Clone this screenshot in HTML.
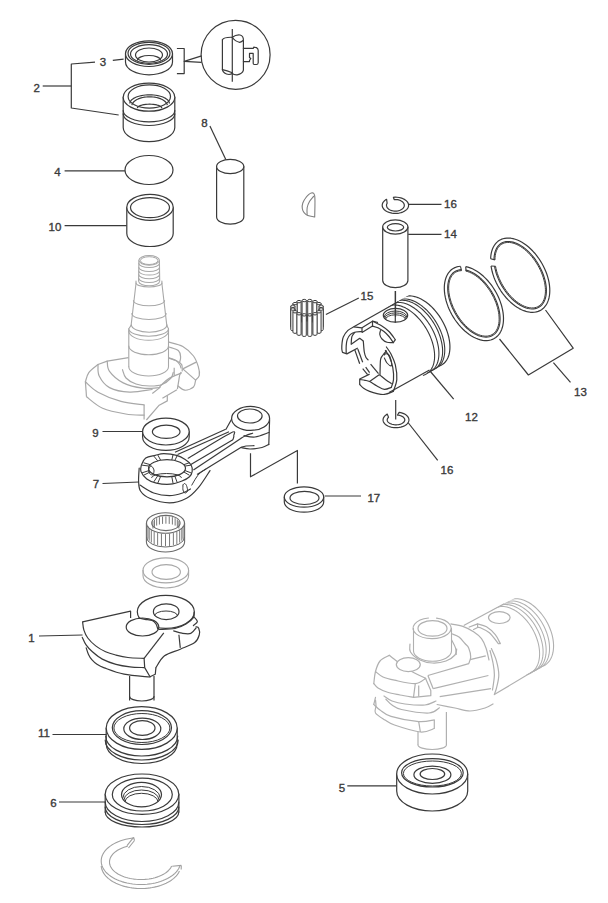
<!DOCTYPE html>
<html><head><meta charset="utf-8"><style>
html,body{margin:0;padding:0;background:#fff;}
svg{display:block;font-family:"Liberation Sans",sans-serif;}
</style></head><body>
<svg width="608" height="903" viewBox="0 0 608 903">
<text x="36.8" y="88" font-size="11.5" fill="#3a3a3a" stroke="#3a3a3a" stroke-width="0.35" text-anchor="middle" dominant-baseline="central">2</text>
<line x1="42.7" y1="86" x2="71.3" y2="86" stroke="#3a3a3a" stroke-width="1.2"/>
<path d="M95 62.1 L71.3 64 L71.3 108 L118.7 115" stroke="#3a3a3a" stroke-width="1.2" fill="none" stroke-linejoin="round"/>
<text x="103" y="62" font-size="11.5" fill="#3a3a3a" stroke="#3a3a3a" stroke-width="0.35" text-anchor="middle" dominant-baseline="central">3</text>
<line x1="112.8" y1="60.3" x2="123.6" y2="59.1" stroke="#3a3a3a" stroke-width="1.2"/>
<text x="57.5" y="171.5" font-size="11.5" fill="#3a3a3a" stroke="#3a3a3a" stroke-width="0.35" text-anchor="middle" dominant-baseline="central">4</text>
<line x1="64.6" y1="170.8" x2="125" y2="170.8" stroke="#3a3a3a" stroke-width="1.2"/>
<text x="55" y="226.5" font-size="11.5" fill="#3a3a3a" stroke="#3a3a3a" stroke-width="0.35" text-anchor="middle" dominant-baseline="central">10</text>
<line x1="64.6" y1="225.7" x2="126.8" y2="225.7" stroke="#3a3a3a" stroke-width="1.2"/>
<text x="204.5" y="122.8" font-size="11.5" fill="#3a3a3a" stroke="#3a3a3a" stroke-width="0.35" text-anchor="middle" dominant-baseline="central">8</text>
<line x1="209.9" y1="126" x2="225.9" y2="159.8" stroke="#3a3a3a" stroke-width="1.2"/>
<path d="M125.5 53.7 L125.5 62 A23.5 12.8 0 0 0 172.5 62 L172.5 53.7" stroke="#3a3a3a" stroke-width="1.2" fill="#fff" stroke-linejoin="round" stroke-linecap="round"/>
<ellipse cx="149" cy="53.7" rx="23.5" ry="12.8" stroke="#3a3a3a" stroke-width="1.2" fill="#fff"/>
<ellipse cx="149" cy="53.3" rx="21" ry="11" stroke="#3a3a3a" stroke-width="1.2" fill="none"/>
<ellipse cx="149" cy="54" rx="18.5" ry="9.3" stroke="#3a3a3a" stroke-width="1.2" fill="none"/>
<ellipse cx="149" cy="55" rx="13.5" ry="7" stroke="#3a3a3a" stroke-width="1.2" fill="none"/>
<path d="M137.5 60 A11.5 4.5 0 0 1 160.5 60" stroke="#3a3a3a" stroke-width="1.2" fill="none" stroke-linejoin="round" stroke-linecap="round"/>
<path d="M123.2 97.2 L123.2 127.6 A25.8 14 0 0 0 174.8 127.6 L174.8 97.2" stroke="#3a3a3a" stroke-width="1.2" fill="#fff" stroke-linejoin="round" stroke-linecap="round"/>
<ellipse cx="149" cy="97.2" rx="25.8" ry="14" stroke="#3a3a3a" stroke-width="1.2" fill="#fff"/>
<ellipse cx="149.3" cy="96.5" rx="21.2" ry="11.6" stroke="#3a3a3a" stroke-width="1.2" fill="none"/>
<path d="M129.8 103.5 L129.91 102.59 L130.23 101.69 L130.77 100.81 L131.51 99.96 L132.45 99.15 L133.58 98.39 L134.89 97.68 L136.35 97.03 L137.96 96.46 L139.7 95.97 L141.55 95.55 L143.48 95.23 L145.48 94.99 L147.53 94.85 L149.6 94.8 L151.67 94.85 L153.72 94.99 L155.72 95.23 L157.65 95.55 L159.5 95.97 L161.24 96.46 L162.85 97.03 L164.31 97.68 L165.62 98.39 L166.75 99.15 L167.69 99.96 L168.43 100.81 L168.97 101.69 L169.29 102.59 L169.4 103.5" stroke="#3a3a3a" stroke-width="1.2" fill="none" stroke-linejoin="round"/>
<path d="M131.87 105.2 L132.11 104.3 L132.52 103.41 L133.1 102.55 L133.84 101.73 L134.73 100.94 L135.77 100.21 L136.94 99.53 L138.24 98.92 L139.65 98.37 L141.15 97.9 L142.74 97.51 L144.4 97.2 L146.1 96.98 L147.84 96.84 L149.6 96.8 L151.36 96.84 L153.1 96.98 L154.8 97.2 L156.46 97.51 L158.05 97.9 L159.55 98.37 L160.96 98.92 L162.26 99.53 L163.43 100.21 L164.47 100.94 L165.36 101.73 L166.1 102.55 L166.68 103.41 L167.09 104.3 L167.33 105.2" stroke="#3a3a3a" stroke-width="1.2" fill="none" stroke-linejoin="round"/>
<path d="M137.4 108.2 L137.55 107.57 L138 106.96 L138.73 106.38 L139.73 105.85 L140.97 105.37 L142.43 104.96 L144.06 104.64 L145.83 104.4 L147.69 104.25 L149.6 104.2 L151.51 104.25 L153.37 104.4 L155.14 104.64 L156.77 104.96 L158.23 105.37 L159.47 105.85 L160.47 106.38 L161.2 106.96 L161.65 107.57 L161.8 108.2" stroke="#3a3a3a" stroke-width="1.2" fill="none" stroke-linejoin="round"/>
<path d="M123.2 110.5 A25.8 11.4 0 0 0 174.8 110.5" stroke="#3a3a3a" stroke-width="1.2" fill="none" stroke-linejoin="round" stroke-linecap="round"/>
<path d="M123.2 113.8 A25.8 11.7 0 0 0 174.8 113.8" stroke="#3a3a3a" stroke-width="1.2" fill="none" stroke-linejoin="round" stroke-linecap="round"/>
<circle cx="235.6" cy="54.8" r="34.5" stroke="#3a3a3a" stroke-width="1.2" fill="none"/>
<path d="M176.9 48.5 L184.2 48.5 L184.2 73.6 L176.9 73.6" stroke="#3a3a3a" stroke-width="1.2" fill="none" stroke-linejoin="round"/>
<path d="M201.6 55.9 L184.2 61.4 L201.6 62.4" stroke="#3a3a3a" stroke-width="1.2" fill="none" stroke-linejoin="round"/>
<path d="M222.4 39.8 L222.4 69.8 Q223.5 73.8 229 74.5 Q231 74.3 232.3 73.5 Q234 75 237.2 74.8 Q242.5 74 243.4 70.2 L243.4 40.6" stroke="#3a3a3a" stroke-width="1.2" fill="none" stroke-linejoin="round" stroke-linecap="round"/>
<path d="M222.4 39.8 Q224 37 232.3 37.3 Q236 34.5 240 35 Q243.6 36 243.4 40.2 Q241.5 42 239.7 42.3 Q235 41.5 232.3 37.3" stroke="#3a3a3a" stroke-width="1.2" fill="none" stroke-linejoin="round" stroke-linecap="round"/>
<path d="M222.4 69.6 Q227 70.5 232.3 72.8" stroke="#3a3a3a" stroke-width="1.2" fill="none" stroke-linejoin="round" stroke-linecap="round"/>
<line x1="232.3" y1="29.1" x2="232.3" y2="81.7" stroke="#3a3a3a" stroke-width="1.2"/>
<path d="M243.4 48.4 L253.2 48.4 L253.7 47.2 L256.5 47.6 Q258.2 48.5 258.2 50.5 L258.2 62.8 Q258 64.5 256.5 64.5 L254.2 64.5 Q253.2 64.5 253.2 63.3 L253.2 53.4 L249.5 53.4 L249.5 57.5 L250.8 58.5 L249.5 60.5 L249.5 61.6 L243.4 61.6" stroke="#3a3a3a" stroke-width="1.2" fill="none" stroke-linejoin="round" stroke-linecap="round"/>
<ellipse cx="149" cy="170" rx="24" ry="14.5" stroke="#3a3a3a" stroke-width="1.2" fill="none"/>
<path d="M126.8 207.3 L126.8 233.5 A23.2 13 0 0 0 173.2 233.5 L173.2 207.3" stroke="#3a3a3a" stroke-width="1.2" fill="#fff" stroke-linejoin="round" stroke-linecap="round"/>
<ellipse cx="150" cy="207.3" rx="23.2" ry="13" stroke="#3a3a3a" stroke-width="1.2" fill="#fff"/>
<ellipse cx="150" cy="207.6" rx="19.5" ry="10" stroke="#3a3a3a" stroke-width="1.2" fill="none"/>
<path d="M216.6 166.5 L216.6 217 A13.6 7.2 0 0 0 243.8 217 L243.8 166.5" stroke="#3a3a3a" stroke-width="1.2" fill="#fff" stroke-linejoin="round" stroke-linecap="round"/>
<ellipse cx="230.2" cy="166.5" rx="13.6" ry="7.2" stroke="#3a3a3a" stroke-width="1.2" fill="#fff"/>
<path d="M314.7 216.9 C314.7 213.4 315.37 199.85 314.7 195.9 C314.03 191.95 312.15 192.93 310.7 193.2 C309.25 193.47 307.32 195.87 306 197.5 C304.68 199.13 303.42 201.17 302.8 203 C302.18 204.83 302.08 206.9 302.3 208.5 C302.52 210.1 303.18 211.43 304.1 212.6 C305.02 213.77 306.03 214.78 307.8 215.5 C309.57 216.22 313.55 216.67 314.7 216.9" stroke="#808080" stroke-width="1.1" fill="none" stroke-linejoin="round" stroke-linecap="round"/>
<path d="M313.6 196.3 C312.92 197.17 310.57 199.63 309.5 201.5 C308.43 203.37 307.6 205.28 307.2 207.5 C306.8 209.72 307.12 213.58 307.1 214.8" stroke="#808080" stroke-width="1.1" fill="none" stroke-linejoin="round" stroke-linecap="round"/>
<path d="M393.4 197.29 L395.28 197.2 L397.16 197.27 L399 197.51 L400.77 197.9 L402.43 198.44 L403.94 199.13 L405.29 199.93 L406.43 200.85 L407.35 201.86 L408.02 202.94 L408.44 204.06 L408.6 205.21 L408.49 206.36 L408.11 207.49 L407.47 208.58 L406.59 209.6 L405.48 210.53 L404.16 211.36 L402.67 212.06 L401.03 212.63 L399.28 213.04 L397.44 213.3 L395.57 213.4 L393.69 213.33 L391.85 213.1 L390.08 212.71 L388.41 212.17 L386.89 211.49 L385.54 210.69 L384.4 209.77 L383.47 208.77 L382.79 207.69 L382.36 206.57 L382.2 205.42 L382.31 204.27 L382.68 203.13 L383.31 202.05 L384.19 201.03 L385.29 200.09 L386.6 199.26 L387.12 203.17 L386.76 203.9 L386.56 204.64 L386.5 205.4 L386.6 206.15 L386.84 206.89 L387.23 207.61 L387.76 208.28 L388.43 208.9 L389.2 209.46 L390.09 209.95 L391.07 210.37 L392.12 210.69 L393.22 210.92 L394.37 211.06 L395.53 211.1 L396.68 211.04 L397.82 210.88 L398.92 210.63 L399.95 210.28 L400.91 209.85 L401.77 209.35 L402.53 208.77 L403.16 208.14 L403.66 207.45 L404.02 206.73 L404.24 205.99 L404.3 205.23 L404.21 204.48 L403.97 203.74 L403.58 203.02 L403.06 202.35 L402.4 201.72 L401.63 201.16 L400.75 200.66 L399.77 200.25 L398.73 199.92 L397.62 199.68 L396.48 199.54 L395.32 199.5 L394.16 199.56 Z" stroke="#3a3a3a" stroke-width="1.2" fill="none" stroke-linejoin="round"/>
<text x="450.5" y="204" font-size="11.5" fill="#3a3a3a" stroke="#3a3a3a" stroke-width="0.35" text-anchor="middle" dominant-baseline="central">16</text>
<line x1="408.7" y1="204.4" x2="441.5" y2="204.4" stroke="#3a3a3a" stroke-width="1.2"/>
<path d="M382.7 227 L382.7 280.5 A12.6 7.2 0 0 0 407.9 280.5 L407.9 227" stroke="#3a3a3a" stroke-width="1.2" fill="#fff" stroke-linejoin="round" stroke-linecap="round"/>
<ellipse cx="395.3" cy="227" rx="12.6" ry="7.2" stroke="#3a3a3a" stroke-width="1.2" fill="#fff"/>
<ellipse cx="395.5" cy="227.3" rx="8.2" ry="3.7" stroke="#3a3a3a" stroke-width="1.2" fill="none"/>
<text x="450.5" y="234" font-size="11.5" fill="#3a3a3a" stroke="#3a3a3a" stroke-width="0.35" text-anchor="middle" dominant-baseline="central">14</text>
<line x1="408.2" y1="234.3" x2="441.5" y2="234.3" stroke="#3a3a3a" stroke-width="1.2"/>
<line x1="395.3" y1="291" x2="395.3" y2="322.8" stroke="#3a3a3a" stroke-width="1.2"/>
<path d="M307.71 300.54 L307.71 320.94 A2.1 1.2 0 0 0 311.91 320.94 L311.91 300.54 Z" stroke="#3a3a3a" stroke-width="1" fill="#fff"/>
<ellipse cx="309.81" cy="300.54" rx="2.1" ry="1.2" stroke="#3a3a3a" stroke-width="1" fill="#fff"/>
<path d="M302.09 300.54 L302.09 320.94 A2.1 1.2 0 0 0 306.29 320.94 L306.29 300.54 Z" stroke="#3a3a3a" stroke-width="1" fill="#fff"/>
<ellipse cx="304.19" cy="300.54" rx="2.1" ry="1.2" stroke="#3a3a3a" stroke-width="1" fill="#fff"/>
<path d="M312.9 301.63 L312.9 322.03 A2.1 1.2 0 0 0 317.1 322.03 L317.1 301.63 Z" stroke="#3a3a3a" stroke-width="1" fill="#fff"/>
<ellipse cx="315" cy="301.63" rx="2.1" ry="1.2" stroke="#3a3a3a" stroke-width="1" fill="#fff"/>
<path d="M296.9 301.63 L296.9 322.03 A2.1 1.2 0 0 0 301.1 322.03 L301.1 301.63 Z" stroke="#3a3a3a" stroke-width="1" fill="#fff"/>
<ellipse cx="299" cy="301.63" rx="2.1" ry="1.2" stroke="#3a3a3a" stroke-width="1" fill="#fff"/>
<path d="M316.87 303.64 L316.87 324.04 A2.1 1.2 0 0 0 321.07 324.04 L321.07 303.64 Z" stroke="#3a3a3a" stroke-width="1" fill="#fff"/>
<ellipse cx="318.97" cy="303.64" rx="2.1" ry="1.2" stroke="#3a3a3a" stroke-width="1" fill="#fff"/>
<path d="M292.93 303.64 L292.93 324.04 A2.1 1.2 0 0 0 297.13 324.04 L297.13 303.64 Z" stroke="#3a3a3a" stroke-width="1" fill="#fff"/>
<ellipse cx="295.03" cy="303.64" rx="2.1" ry="1.2" stroke="#3a3a3a" stroke-width="1" fill="#fff"/>
<path d="M319.02 306.28 L319.02 326.68 A2.1 1.2 0 0 0 323.22 326.68 L323.22 306.28 Z" stroke="#3a3a3a" stroke-width="1" fill="#fff"/>
<ellipse cx="321.12" cy="306.28" rx="2.1" ry="1.2" stroke="#3a3a3a" stroke-width="1" fill="#fff"/>
<path d="M290.78 306.28 L290.78 326.68 A2.1 1.2 0 0 0 294.98 326.68 L294.98 306.28 Z" stroke="#3a3a3a" stroke-width="1" fill="#fff"/>
<ellipse cx="292.88" cy="306.28" rx="2.1" ry="1.2" stroke="#3a3a3a" stroke-width="1" fill="#fff"/>
<path d="M319.02 309.12 L319.02 329.52 A2.1 1.2 0 0 0 323.22 329.52 L323.22 309.12 Z" stroke="#3a3a3a" stroke-width="1" fill="#fff"/>
<ellipse cx="321.12" cy="309.12" rx="2.1" ry="1.2" stroke="#3a3a3a" stroke-width="1" fill="#fff"/>
<path d="M290.78 309.12 L290.78 329.52 A2.1 1.2 0 0 0 294.98 329.52 L294.98 309.12 Z" stroke="#3a3a3a" stroke-width="1" fill="#fff"/>
<ellipse cx="292.88" cy="309.12" rx="2.1" ry="1.2" stroke="#3a3a3a" stroke-width="1" fill="#fff"/>
<path d="M292.93 311.76 L292.93 332.16 A2.1 1.2 0 0 0 297.13 332.16 L297.13 311.76 Z" stroke="#3a3a3a" stroke-width="1" fill="#fff"/>
<ellipse cx="295.03" cy="311.76" rx="2.1" ry="1.2" stroke="#3a3a3a" stroke-width="1" fill="#fff"/>
<path d="M316.87 311.76 L316.87 332.16 A2.1 1.2 0 0 0 321.07 332.16 L321.07 311.76 Z" stroke="#3a3a3a" stroke-width="1" fill="#fff"/>
<ellipse cx="318.97" cy="311.76" rx="2.1" ry="1.2" stroke="#3a3a3a" stroke-width="1" fill="#fff"/>
<path d="M312.9 313.77 L312.9 334.17 A2.1 1.2 0 0 0 317.1 334.17 L317.1 313.77 Z" stroke="#3a3a3a" stroke-width="1" fill="#fff"/>
<ellipse cx="315" cy="313.77" rx="2.1" ry="1.2" stroke="#3a3a3a" stroke-width="1" fill="#fff"/>
<path d="M296.9 313.77 L296.9 334.17 A2.1 1.2 0 0 0 301.1 334.17 L301.1 313.77 Z" stroke="#3a3a3a" stroke-width="1" fill="#fff"/>
<ellipse cx="299" cy="313.77" rx="2.1" ry="1.2" stroke="#3a3a3a" stroke-width="1" fill="#fff"/>
<path d="M302.09 314.86 L302.09 335.26 A2.1 1.2 0 0 0 306.29 335.26 L306.29 314.86 Z" stroke="#3a3a3a" stroke-width="1" fill="#fff"/>
<ellipse cx="304.19" cy="314.86" rx="2.1" ry="1.2" stroke="#3a3a3a" stroke-width="1" fill="#fff"/>
<path d="M307.71 314.86 L307.71 335.26 A2.1 1.2 0 0 0 311.91 335.26 L311.91 314.86 Z" stroke="#3a3a3a" stroke-width="1" fill="#fff"/>
<ellipse cx="309.81" cy="314.86" rx="2.1" ry="1.2" stroke="#3a3a3a" stroke-width="1" fill="#fff"/>
<text x="367" y="295.6" font-size="11.5" fill="#3a3a3a" stroke="#3a3a3a" stroke-width="0.35" text-anchor="middle" dominant-baseline="central">15</text>
<line x1="325.9" y1="314.5" x2="358.8" y2="298" stroke="#3a3a3a" stroke-width="1.2"/>
<path d="M465.76 266.61 L467.95 267.13 L470.17 267.86 L472.42 268.79 L474.67 269.93 L476.92 271.25 L479.15 272.77 L481.35 274.46 L483.51 276.32 L485.61 278.34 L487.64 280.5 L489.6 282.79 L491.46 285.21 L493.22 287.73 L494.87 290.34 L496.4 293.02 L497.8 295.77 L499.05 298.56 L500.17 301.38 L501.13 304.21 L501.93 307.03 L502.57 309.84 L503.05 312.6 L503.35 315.32 L503.49 317.96 L503.45 320.52 L503.25 322.98 L502.87 325.33 L502.32 327.55 L501.61 329.63 L500.74 331.56 L499.72 333.33 L498.54 334.92 L497.22 336.33 L495.77 337.54 L494.19 338.57 L492.49 339.38 L490.68 339.99 L488.78 340.39 L486.79 340.57 L484.73 340.54 L482.6 340.29 L480.42 339.82 L478.21 339.15 L475.97 338.27 L473.72 337.19 L471.47 335.91 L469.23 334.44 L467.02 332.8 L464.85 330.98 L462.73 329 L460.68 326.88 L458.71 324.62 L456.82 322.23 L455.03 319.74 L453.35 317.15 L451.79 314.48 L450.36 311.75 L449.06 308.97 L447.91 306.16 L446.91 303.33 L446.06 300.5 L445.38 297.69 L444.86 294.91 L444.51 292.18 L444.33 289.52 L444.32 286.94 L444.48 284.45 L444.82 282.07 L445.32 279.81 L445.99 277.7 L446.82 275.73 L447.8 273.92 L448.94 272.28 L450.22 270.82 L451.64 269.55 L453.19 268.48 L454.86 267.61 L456.64 266.95 L458.51 266.5 L460.48 266.26" stroke="#3a3a3a" stroke-width="1.2" fill="none" stroke-linejoin="round"/>
<path d="M465.91 270.11 L467.83 270.63 L469.79 271.34 L471.77 272.23 L473.76 273.31 L475.75 274.56 L477.74 275.97 L479.7 277.55 L481.63 279.27 L483.51 281.14 L485.33 283.13 L487.1 285.24 L488.78 287.46 L490.38 289.77 L491.88 292.16 L493.28 294.61 L494.56 297.11 L495.73 299.65 L496.77 302.22 L497.68 304.79 L498.45 307.35 L499.07 309.89 L499.56 312.39 L499.89 314.83 L500.07 317.22 L500.1 319.52 L499.98 321.73 L499.71 323.83 L499.28 325.81 L498.72 327.67 L498 329.38 L497.15 330.95 L496.16 332.35 L495.05 333.58 L493.81 334.65 L492.45 335.53 L490.99 336.22 L489.43 336.72 L487.78 337.03 L486.05 337.15 L484.25 337.07 L482.39 336.79 L480.48 336.33 L478.53 335.67 L476.55 334.82 L474.56 333.79 L472.57 332.59 L470.58 331.21 L468.61 329.68 L466.67 327.99 L464.78 326.16 L462.94 324.2 L461.16 322.12 L459.45 319.93 L457.83 317.64 L456.3 315.27 L454.88 312.84 L453.56 310.34 L452.36 307.81 L451.29 305.25 L450.35 302.68 L449.54 300.12 L448.88 297.57 L448.36 295.06 L447.98 292.6 L447.76 290.2 L447.69 287.87 L447.77 285.64 L448.01 283.51 L448.39 281.49 L448.92 279.6 L449.6 277.85 L450.41 276.25 L451.37 274.8 L452.45 273.52 L453.66 272.41 L454.98 271.49 L456.42 270.74 L457.95 270.19 L459.58 269.83 L461.29 269.66" stroke="#3a3a3a" stroke-width="1.1" fill="none" stroke-linejoin="round"/>
<path d="M465.95 271.11 L467.8 271.63 L469.68 272.33 L471.58 273.21 L473.5 274.27 L475.42 275.5 L477.33 276.89 L479.23 278.43 L481.09 280.12 L482.91 281.94 L484.68 283.88 L486.38 285.94 L488.01 288.1 L489.57 290.35 L491.03 292.68 L492.39 295.06 L493.64 297.5 L494.78 299.97 L495.8 302.46 L496.69 304.95 L497.45 307.44 L498.07 309.9 L498.56 312.32 L498.9 314.7 L499.09 317 L499.14 319.23 L499.05 321.37 L498.8 323.4 L498.42 325.32 L497.89 327.11 L497.22 328.76 L496.42 330.27 L495.48 331.62 L494.42 332.8 L493.25 333.82 L491.96 334.66 L490.56 335.32 L489.07 335.79 L487.49 336.08 L485.84 336.17 L484.11 336.08 L482.32 335.8 L480.49 335.33 L478.62 334.67 L476.72 333.83 L474.8 332.82 L472.88 331.64 L470.96 330.29 L469.06 328.79 L467.19 327.14 L465.36 325.35 L463.58 323.43 L461.86 321.4 L460.2 319.27 L458.63 317.04 L457.15 314.74 L455.76 312.36 L454.48 309.94 L453.31 307.48 L452.25 304.99 L451.33 302.5 L450.53 300.01 L449.88 297.54 L449.36 295.1 L448.98 292.72 L448.74 290.39 L448.66 288.14 L448.72 285.98 L448.92 283.92 L449.27 281.97 L449.76 280.15 L450.39 278.46 L451.16 276.91 L452.06 275.52 L453.09 274.29 L454.23 273.23 L455.5 272.34 L456.86 271.64 L458.33 271.12 L459.89 270.78 L461.52 270.64" stroke="#3a3a3a" stroke-width="1.0" fill="none" stroke-linejoin="round"/>
<line x1="460.48" y1="266.26" x2="461.52" y2="270.64" stroke="#3a3a3a" stroke-width="1.1"/>
<line x1="465.76" y1="266.61" x2="465.95" y2="271.11" stroke="#3a3a3a" stroke-width="1.1"/>
<path d="M490.62 258.69 L490.79 256.21 L491.12 253.84 L491.62 251.6 L492.29 249.49 L493.12 247.52 L494.1 245.72 L495.24 244.09 L496.51 242.63 L497.93 241.36 L499.47 240.29 L501.13 239.42 L502.9 238.76 L504.78 238.3 L506.74 238.06 L508.77 238.03 L510.88 238.22 L513.03 238.62 L515.23 239.23 L517.46 240.05 L519.7 241.07 L521.95 242.28 L524.19 243.69 L526.4 245.28 L528.58 247.04 L530.7 248.96 L532.77 251.03 L534.77 253.24 L536.68 255.58 L538.5 258.04 L540.21 260.59 L541.81 263.22 L543.28 265.93 L544.62 268.68 L545.82 271.48 L546.87 274.3 L547.76 277.12 L548.5 279.93 L549.08 282.71 L549.49 285.45 L549.73 288.13 L549.8 290.74 L549.7 293.26 L549.42 295.67 L548.99 297.97 L548.38 300.13 L547.61 302.15 L546.69 304.02 L545.61 305.72 L544.39 307.24 L543.02 308.58 L541.53 309.72 L539.91 310.67 L538.18 311.42 L536.35 311.95 L534.42 312.27 L532.41 312.38 L530.33 312.28 L528.19 311.96 L526 311.43 L523.79 310.69 L521.55 309.75 L519.3 308.6 L517.06 307.27 L514.84 305.75 L512.65 304.05 L510.5 302.19 L508.4 300.17 L506.38 298.01 L504.43 295.72 L502.58 293.31 L500.83 290.79 L499.18 288.19 L497.66 285.51 L496.27 282.77 L495.02 279.98 L493.91 277.17 L492.96 274.35 L492.16 271.53 L491.52 268.74 L491.05 265.98" stroke="#3a3a3a" stroke-width="1.2" fill="none" stroke-linejoin="round"/>
<path d="M493.99 259.63 L494.08 257.41 L494.31 255.28 L494.7 253.27 L495.23 251.39 L495.9 249.65 L496.71 248.05 L497.66 246.6 L498.74 245.33 L499.95 244.22 L501.27 243.3 L502.7 242.55 L504.23 242 L505.85 241.63 L507.55 241.46 L509.33 241.49 L511.17 241.71 L513.06 242.12 L515 242.72 L516.96 243.51 L518.94 244.48 L520.93 245.63 L522.91 246.95 L524.88 248.43 L526.83 250.07 L528.73 251.85 L530.58 253.76 L532.38 255.8 L534.1 257.95 L535.75 260.2 L537.31 262.54 L538.76 264.95 L540.11 267.42 L541.35 269.93 L542.46 272.47 L543.44 275.03 L544.3 277.59 L545.01 280.14 L545.58 282.66 L546 285.13 L546.27 287.55 L546.4 289.9 L546.37 292.16 L546.19 294.32 L545.87 296.38 L545.39 298.31 L544.77 300.11 L544.01 301.76 L543.11 303.27 L542.08 304.61 L540.92 305.78 L539.65 306.77 L538.26 307.59 L536.77 308.21 L535.18 308.65 L533.5 308.89 L531.75 308.94 L529.93 308.8 L528.06 308.46 L526.14 307.93 L524.19 307.21 L522.21 306.31 L520.23 305.23 L518.24 303.97 L516.26 302.55 L514.31 300.97 L512.39 299.24 L510.51 297.38 L508.69 295.39 L506.94 293.28 L505.26 291.06 L503.67 288.76 L502.18 286.37 L500.79 283.93 L499.51 281.43 L498.35 278.89 L497.31 276.34 L496.41 273.78 L495.65 271.22 L495.02 268.69 L494.54 266.2" stroke="#3a3a3a" stroke-width="1.1" fill="none" stroke-linejoin="round"/>
<path d="M494.96 259.9 L495.02 257.75 L495.22 255.69 L495.57 253.75 L496.06 251.94 L496.7 250.25 L497.46 248.71 L498.36 247.32 L499.38 246.1 L500.52 245.04 L501.78 244.15 L503.14 243.45 L504.6 242.92 L506.15 242.59 L507.79 242.44 L509.49 242.48 L511.25 242.7 L513.07 243.12 L514.93 243.72 L516.81 244.5 L518.72 245.46 L520.64 246.59 L522.55 247.88 L524.45 249.33 L526.33 250.93 L528.17 252.67 L529.96 254.54 L531.7 256.53 L533.37 258.63 L534.96 260.82 L536.48 263.1 L537.89 265.44 L539.21 267.84 L540.41 270.29 L541.5 272.76 L542.47 275.24 L543.31 277.73 L544.01 280.2 L544.58 282.64 L545 285.04 L545.29 287.38 L545.43 289.66 L545.42 291.85 L545.27 293.94 L544.98 295.92 L544.54 297.79 L543.96 299.53 L543.24 301.12 L542.4 302.57 L541.42 303.86 L540.32 304.98 L539.11 305.93 L537.79 306.71 L536.36 307.3 L534.84 307.71 L533.24 307.93 L531.56 307.96 L529.82 307.81 L528.02 307.46 L526.18 306.93 L524.3 306.22 L522.4 305.33 L520.49 304.26 L518.57 303.03 L516.67 301.64 L514.78 300.09 L512.93 298.4 L511.11 296.58 L509.35 294.64 L507.66 292.58 L506.03 290.42 L504.49 288.18 L503.03 285.86 L501.68 283.47 L500.43 281.05 L499.3 278.58 L498.28 276.1 L497.4 273.61 L496.64 271.13 L496.02 268.68 L495.54 266.26" stroke="#3a3a3a" stroke-width="1.0" fill="none" stroke-linejoin="round"/>
<line x1="491.05" y1="265.98" x2="495.54" y2="266.26" stroke="#3a3a3a" stroke-width="1.1"/>
<line x1="490.62" y1="258.69" x2="494.96" y2="259.9" stroke="#3a3a3a" stroke-width="1.1"/>
<path d="M499.5 339 L528.4 375 L573.2 348.2 L545.5 310" stroke="#3a3a3a" stroke-width="1.2" fill="none" stroke-linejoin="round"/>
<line x1="553.4" y1="362.6" x2="570.5" y2="382.4" stroke="#3a3a3a" stroke-width="1.2"/>
<text x="580.4" y="391.5" font-size="11.5" fill="#3a3a3a" stroke="#3a3a3a" stroke-width="0.35" text-anchor="middle" dominant-baseline="central">13</text>
<clipPath id="pc"><path d="M353.8 326.8 L470 260 L530 260 L530 345 L389 392.5 Z"/></clipPath>
<g clip-path="url(#pc)">
<path d="M438.2 366.29 L439.49 365.91 L440.73 365.4 L441.9 364.78 L443 364.05 L444.04 363.21 L445 362.26 L445.88 361.21 L446.68 360.05 L447.4 358.8 L448.03 357.45 L448.57 356.02 L449.03 354.5 L449.39 352.9 L449.66 351.23 L449.84 349.5 L449.92 347.7 L449.91 345.84 L449.81 343.94 L449.61 342 L449.32 340.02 L448.93 338 L448.46 335.97 L447.89 333.92 L447.24 331.86 L446.5 329.8 L445.68 327.75 L444.78 325.71 L443.8 323.68 L442.75 321.69 L441.63 319.72 L440.45 317.8 L439.2 315.92 L437.89 314.09 L436.53 312.32 L435.12 310.62 L433.67 308.98 L432.17 307.42 L430.65 305.94 L429.09 304.55 L427.51 303.25 L425.91 302.04 L424.3 300.93 L422.68 299.93 L421.06 299.03 L419.44 298.24 L417.84 297.56 L416.24 297 L414.67 296.55 L413.12 296.22 L411.6 296.01 L410.11 295.92 L408.67 295.95 L407.27 296.1 L405.92 296.37 L404.63 296.75 L403.39 297.26 L402.22 297.88 L401.12 298.61 L400.08 299.45 L399.12 300.4" stroke="#3a3a3a" stroke-width="1.2" fill="none" stroke-linejoin="round"/>
<path d="M433.04 369.35 L434.33 368.97 L435.57 368.46 L436.74 367.84 L437.84 367.11 L438.88 366.27 L439.84 365.32 L440.72 364.27 L441.52 363.11 L442.24 361.86 L442.87 360.51 L443.41 359.08 L443.87 357.56 L444.23 355.96 L444.5 354.29 L444.68 352.56 L444.76 350.76 L444.75 348.9 L444.65 347 L444.45 345.06 L444.16 343.08 L443.77 341.06 L443.3 339.03 L442.73 336.98 L442.08 334.92 L441.34 332.86 L440.52 330.81 L439.62 328.77 L438.64 326.74 L437.59 324.75 L436.47 322.78 L435.29 320.86 L434.04 318.98 L432.73 317.15 L431.37 315.38 L429.96 313.68 L428.51 312.04 L427.01 310.48 L425.49 309 L423.93 307.61 L422.35 306.31 L420.75 305.1 L419.14 303.99 L417.52 302.99 L415.9 302.09 L414.28 301.3 L412.68 300.62 L411.08 300.06 L409.51 299.61 L407.96 299.28 L406.44 299.07 L404.95 298.98 L403.51 299.01 L402.11 299.16 L400.76 299.43 L399.47 299.81 L398.23 300.32 L397.06 300.94 L395.96 301.67 L394.92 302.51 L393.96 303.46" stroke="#3a3a3a" stroke-width="1.1" fill="none" stroke-linejoin="round"/>
<path d="M430.89 370.63 L432.18 370.24 L433.42 369.74 L434.59 369.12 L435.69 368.39 L436.73 367.55 L437.69 366.6 L438.57 365.54 L439.37 364.38 L440.09 363.13 L440.72 361.79 L441.26 360.35 L441.72 358.83 L442.08 357.24 L442.35 355.57 L442.53 353.83 L442.61 352.03 L442.6 350.18 L442.5 348.28 L442.3 346.33 L442.01 344.35 L441.62 342.34 L441.15 340.31 L440.58 338.26 L439.93 336.2 L439.19 334.14 L438.37 332.09 L437.47 330.04 L436.49 328.02 L435.44 326.02 L434.32 324.06 L433.14 322.13 L431.89 320.25 L430.58 318.42 L429.22 316.66 L427.81 314.95 L426.36 313.32 L424.86 311.76 L423.34 310.28 L421.78 308.89 L420.2 307.58 L418.6 306.38 L416.99 305.27 L415.37 304.26 L413.75 303.37 L412.13 302.58 L410.53 301.9 L408.93 301.34 L407.36 300.89 L405.81 300.56 L404.29 300.35 L402.8 300.26 L401.36 300.29 L399.96 300.44 L398.61 300.7 L397.32 301.09 L396.08 301.59 L394.91 302.21 L393.81 302.94 L392.77 303.78 L391.81 304.73" stroke="#3a3a3a" stroke-width="1.1" fill="none" stroke-linejoin="round"/>
<path d="M427.19 372.82 L428.48 372.43 L429.72 371.93 L430.89 371.31 L432 370.58 L433.03 369.74 L433.99 368.79 L434.87 367.73 L435.67 366.58 L436.39 365.32 L437.02 363.98 L437.57 362.54 L438.02 361.03 L438.38 359.43 L438.65 357.76 L438.83 356.02 L438.91 354.23 L438.9 352.37 L438.8 350.47 L438.6 348.52 L438.31 346.54 L437.92 344.53 L437.45 342.5 L436.88 340.45 L436.23 338.39 L435.49 336.33 L434.67 334.28 L433.77 332.24 L432.8 330.21 L431.75 328.22 L430.63 326.25 L429.44 324.32 L428.19 322.45 L426.88 320.62 L425.52 318.85 L424.11 317.14 L422.66 315.51 L421.17 313.95 L419.64 312.47 L418.08 311.08 L416.5 309.78 L414.91 308.57 L413.29 307.46 L411.67 306.46 L410.05 305.56 L408.44 304.77 L406.83 304.09 L405.23 303.53 L403.66 303.08 L402.11 302.75 L400.59 302.54 L399.1 302.45 L397.66 302.48 L396.26 302.63 L394.91 302.9 L393.62 303.28 L392.38 303.79 L391.21 304.4 L390.11 305.14 L389.07 305.98 L388.12 306.93" stroke="#3a3a3a" stroke-width="1.1" fill="none" stroke-linejoin="round"/>
<path d="M422.89 375.37 L424.18 374.98 L425.42 374.48 L426.59 373.86 L427.7 373.13 L428.73 372.29 L429.69 371.34 L430.57 370.28 L431.37 369.13 L432.09 367.87 L432.72 366.53 L433.27 365.09 L433.72 363.58 L434.08 361.98 L434.35 360.31 L434.53 358.57 L434.61 356.78 L434.6 354.92 L434.5 353.02 L434.3 351.07 L434.01 349.09 L433.62 347.08 L433.15 345.05 L432.58 343 L431.93 340.94 L431.19 338.88 L430.37 336.83 L429.47 334.79 L428.5 332.76 L427.45 330.77 L426.33 328.8 L425.14 326.87 L423.89 325 L422.58 323.17 L421.22 321.4 L419.81 319.69 L418.36 318.06 L416.87 316.5 L415.34 315.02 L413.78 313.63 L412.2 312.33 L410.61 311.12 L408.99 310.01 L407.37 309.01 L405.75 308.11 L404.14 307.32 L402.53 306.64 L400.93 306.08 L399.36 305.63 L397.81 305.3 L396.29 305.09 L394.8 305 L393.36 305.03 L391.96 305.18 L390.61 305.45 L389.32 305.83 L388.08 306.34 L386.91 306.95 L385.81 307.69 L384.77 308.53 L383.82 309.48" stroke="#3a3a3a" stroke-width="1.1" fill="none" stroke-linejoin="round"/>
</g>
<line x1="398.5" y1="301.4" x2="353.8" y2="326.8" stroke="#3a3a3a" stroke-width="1.2"/>
<line x1="429.5" y1="370" x2="389" y2="392.5" stroke="#3a3a3a" stroke-width="1.2"/>
<ellipse cx="395.5" cy="315.3" rx="12.2" ry="6.9" stroke="#3a3a3a" stroke-width="1.2" fill="none"/>
<path d="M384.3 316.6 A11.2 5.6 0 0 1 406.7 316.6" stroke="#3a3a3a" stroke-width="1" fill="none" stroke-linejoin="round" stroke-linecap="round"/>
<path d="M384.9 317.9 A10.6 5 0 0 1 406.1 317.9" stroke="#3a3a3a" stroke-width="1" fill="none" stroke-linejoin="round" stroke-linecap="round"/>
<path d="M385.5 319.2 A10 4.4 0 0 1 405.5 319.2" stroke="#3a3a3a" stroke-width="1" fill="none" stroke-linejoin="round" stroke-linecap="round"/>
<line x1="395.5" y1="291" x2="395.5" y2="317" stroke="#3a3a3a" stroke-width="1.2"/>
<path d="M353.8 326.8 C352.82 327.4 349.65 328.7 347.9 330.4 C346.15 332.1 344.28 334.8 343.3 337 C342.32 339.2 342.25 341.6 342 343.6 C341.75 345.6 341.72 347.53 341.8 349 C341.88 350.47 342.38 351.83 342.5 352.4" stroke="#3a3a3a" stroke-width="1.2" fill="none" stroke-linejoin="round" stroke-linecap="round"/>
<path d="M342.5 352.4 L346.9 353.9 L357.8 348" stroke="#3a3a3a" stroke-width="1.2" fill="none" stroke-linejoin="round"/>
<path d="M353.8 326.8 L362 327.8 L362 332.4" stroke="#3a3a3a" stroke-width="1.2" fill="none" stroke-linejoin="round"/>
<path d="M362 327.8 L372.5 321.2 L378 322.5" stroke="#3a3a3a" stroke-width="1.2" fill="none" stroke-linejoin="round"/>
<path d="M362 332.4 L372.5 326.1 L378 327.8" stroke="#3a3a3a" stroke-width="1.2" fill="none" stroke-linejoin="round"/>
<line x1="372.5" y1="321.2" x2="372.5" y2="326.1" stroke="#3a3a3a" stroke-width="1.2"/>
<path d="M372.5 321.2 C374 321.97 378.75 324.08 381.5 325.8 C384.25 327.52 386.7 329.2 389 331.5 C391.3 333.8 394.25 338.25 395.3 339.6" stroke="#3a3a3a" stroke-width="1.2" fill="none" stroke-linejoin="round" stroke-linecap="round"/>
<path d="M395.3 339.6 L393.3 342.6" stroke="#3a3a3a" stroke-width="1.2" fill="none" stroke-linejoin="round"/>
<path d="M378 327.8 C379 328.42 382.17 330.05 384 331.5 C385.83 332.95 387.45 334.65 389 336.5 C390.55 338.35 392.58 341.58 393.3 342.6" stroke="#3a3a3a" stroke-width="1.2" fill="none" stroke-linejoin="round" stroke-linecap="round"/>
<path d="M380.5 330.5 C380.38 331.17 379.55 333.08 379.8 334.5 C380.05 335.92 380.8 337.7 382 339 C383.2 340.3 385.12 341.7 387 342.3 C388.88 342.9 392.25 342.55 393.3 342.6" stroke="#3a3a3a" stroke-width="1.2" fill="none" stroke-linejoin="round" stroke-linecap="round"/>
<path d="M362 331.7 C360.97 331.75 357.72 331.55 355.8 332 C353.88 332.45 351.93 333.13 350.5 334.4 C349.07 335.67 347.92 337.67 347.2 339.6 C346.48 341.53 346.37 343.8 346.2 346 C346.03 348.2 346.2 351.67 346.2 352.8" stroke="#3a3a3a" stroke-width="1.2" fill="none" stroke-linejoin="round" stroke-linecap="round"/>
<path d="M354.8 332.4 C354.3 333.17 352.4 335.03 351.8 337 C351.2 338.97 351.3 343 351.2 344.2" stroke="#3a3a3a" stroke-width="1.2" fill="none" stroke-linejoin="round" stroke-linecap="round"/>
<path d="M351.2 344.2 L359.7 338.3 L363.3 341" stroke="#3a3a3a" stroke-width="1.2" fill="none" stroke-linejoin="round"/>
<path d="M363.3 341 C363.47 342.83 363.85 349.25 364.3 352 C364.75 354.75 365.37 356.2 366 357.5 C366.63 358.8 367.75 359.42 368.1 359.8" stroke="#3a3a3a" stroke-width="1.2" fill="none" stroke-linejoin="round" stroke-linecap="round"/>
<line x1="354.8" y1="349.9" x2="359.7" y2="363.8" stroke="#3a3a3a" stroke-width="1.2"/>
<line x1="357.8" y1="349" x2="362.7" y2="362.3" stroke="#3a3a3a" stroke-width="1.2"/>
<line x1="362.7" y1="368.7" x2="367.6" y2="374.6" stroke="#3a3a3a" stroke-width="1.2"/>
<line x1="365.7" y1="367.2" x2="369.6" y2="372.6" stroke="#3a3a3a" stroke-width="1.2"/>
<line x1="370.6" y1="364.2" x2="378.5" y2="373.6" stroke="#3a3a3a" stroke-width="1.2"/>
<path d="M369.6 374.1 L359.7 379 L359.7 384.5" stroke="#3a3a3a" stroke-width="1.2" fill="none" stroke-linejoin="round"/>
<path d="M359.7 384.5 C360.42 385.17 362.35 387.35 364 388.5 C365.65 389.65 367.43 390.55 369.6 391.4 C371.77 392.25 374.53 393.1 377 393.6 C379.47 394.1 381.68 394.77 384.4 394.4 C387.12 394.03 391.82 391.9 393.3 391.4" stroke="#3a3a3a" stroke-width="1.2" fill="none" stroke-linejoin="round" stroke-linecap="round"/>
<path d="M360.5 379.6 C361.25 379.72 363.48 379.98 365 380.3 C366.52 380.62 367.6 380.55 369.6 381.5 C371.6 382.45 374.53 384.68 377 386 C379.47 387.32 382.02 389.17 384.4 389.4 C386.78 389.63 390.15 387.73 391.3 387.4" stroke="#3a3a3a" stroke-width="1.2" fill="none" stroke-linejoin="round" stroke-linecap="round"/>
<line x1="369.6" y1="381.5" x2="379.5" y2="374.6" stroke="#3a3a3a" stroke-width="1.2"/>
<path d="M380 375.6 C380.03 374 380.08 368.8 380.2 366 C380.32 363.2 380.23 360.63 380.7 358.8 C381.17 356.97 382.05 356.3 383 355 C383.95 353.7 385.83 351.67 386.4 351" stroke="#3a3a3a" stroke-width="1.2" fill="none" stroke-linejoin="round" stroke-linecap="round"/>
<path d="M384.4 355 C384.53 354.82 384.52 353.98 385.2 353.9 C385.88 353.82 387.53 353.52 388.5 354.5 C389.47 355.48 390.53 357.93 391 359.8 C391.47 361.67 391.97 365.17 391.3 365.7 C390.63 366.23 388.15 364.28 387 363 C385.85 361.72 384.83 358.83 384.4 358" stroke="#3a3a3a" stroke-width="1.1" fill="none" stroke-linejoin="round" stroke-linecap="round"/>
<path d="M380.5 375.6 C381.42 376.33 384.2 378.68 386 380 C387.8 381.32 390.42 382.92 391.3 383.5" stroke="#3a3a3a" stroke-width="1.2" fill="none" stroke-linejoin="round" stroke-linecap="round"/>
<path d="M386.4 347 C387.17 348.17 389.52 351.05 391 354 C392.48 356.95 394.33 360.43 395.3 364.7 C396.27 368.97 397.13 375.15 396.8 379.6 C396.47 384.05 393.88 389.43 393.3 391.4" stroke="#3a3a3a" stroke-width="1.2" fill="none" stroke-linejoin="round" stroke-linecap="round"/>
<path d="M385.4 350.5 C386.08 351.58 388.27 354.13 389.5 357 C390.73 359.87 392.13 363.93 392.8 367.7 C393.47 371.47 393.75 376.32 393.5 379.6 C393.25 382.88 391.67 386.1 391.3 387.4" stroke="#3a3a3a" stroke-width="1.2" fill="none" stroke-linejoin="round" stroke-linecap="round"/>
<line x1="430" y1="371" x2="453.7" y2="399.2" stroke="#3a3a3a" stroke-width="1.2"/>
<text x="471.5" y="417" font-size="11.5" fill="#3a3a3a" stroke="#3a3a3a" stroke-width="0.35" text-anchor="middle" dominant-baseline="central">12</text>
<line x1="395.7" y1="400" x2="395.7" y2="419.6" stroke="#3a3a3a" stroke-width="1.2"/>
<path d="M399.13 412.33 L400.77 412.65 L402.31 413.09 L403.75 413.65 L405.06 414.32 L406.2 415.09 L407.16 415.95 L407.93 416.87 L408.49 417.85 L408.83 418.86 L408.95 419.89 L408.84 420.92 L408.5 421.93 L407.95 422.91 L407.18 423.83 L406.22 424.69 L405.08 425.46 L403.78 426.14 L402.34 426.7 L400.8 427.15 L399.17 427.46 L397.48 427.65 L395.77 427.7 L394.06 427.61 L392.38 427.39 L390.77 427.04 L389.25 426.56 L387.85 425.96 L386.59 425.26 L385.5 424.46 L384.59 423.59 L383.88 422.65 L383.38 421.66 L383.11 420.64 L383.06 419.61 L383.24 418.58 L383.64 417.58 L384.26 416.61 L385.08 415.71 L386.1 414.88 L387.28 414.13 L388.54 417.3 L388.01 417.85 L387.6 418.43 L387.34 419.04 L387.21 419.66 L387.23 420.28 L387.39 420.9 L387.68 421.5 L388.12 422.08 L388.68 422.62 L389.36 423.11 L390.15 423.56 L391.03 423.94 L391.99 424.26 L393.02 424.51 L394.1 424.68 L395.2 424.78 L396.32 424.8 L397.44 424.73 L398.53 424.59 L399.58 424.38 L400.57 424.09 L401.49 423.73 L402.32 423.31 L403.05 422.84 L403.66 422.31 L404.15 421.75 L404.5 421.16 L404.72 420.55 L404.8 419.93 L404.73 419.3 L404.53 418.69 L404.18 418.1 L403.7 417.53 L403.1 417.01 L402.38 416.53 L401.56 416.1 L400.65 415.74 L399.66 415.44 L398.62 415.22 L397.53 415.07 Z" stroke="#3a3a3a" stroke-width="1.2" fill="none" stroke-linejoin="round"/>
<line x1="408.4" y1="423" x2="437.7" y2="460.4" stroke="#3a3a3a" stroke-width="1.2"/>
<text x="447" y="469.5" font-size="11.5" fill="#3a3a3a" stroke="#3a3a3a" stroke-width="0.35" text-anchor="middle" dominant-baseline="central">16</text>
<path d="M138.9 260.3 L138.6 281 M159.4 260.3 L159.7 281" stroke="#a8a8a8" stroke-width="1.1" fill="none" stroke-linejoin="round" stroke-linecap="round"/>
<ellipse cx="149.15" cy="260.3" rx="10.25" ry="4.8" stroke="#a8a8a8" stroke-width="1.1" fill="#fff"/>
<ellipse cx="149.15" cy="260.6" rx="8.7" ry="3.9" stroke="#a8a8a8" stroke-width="1" fill="none"/>
<path d="M138.75 263.2 A10.4 4.2 0 0 0 159.55 263.2" stroke="#a8a8a8" stroke-width="1.05" fill="none" stroke-linejoin="round" stroke-linecap="round"/>
<path d="M138.75 267.2 A10.4 4.2 0 0 0 159.55 267.2" stroke="#a8a8a8" stroke-width="1.05" fill="none" stroke-linejoin="round" stroke-linecap="round"/>
<path d="M138.75 270.9 A10.4 4.2 0 0 0 159.55 270.9" stroke="#a8a8a8" stroke-width="1.05" fill="none" stroke-linejoin="round" stroke-linecap="round"/>
<path d="M138.75 274.6 A10.4 4.2 0 0 0 159.55 274.6" stroke="#a8a8a8" stroke-width="1.05" fill="none" stroke-linejoin="round" stroke-linecap="round"/>
<path d="M138.75 278.2 A10.4 4.2 0 0 0 159.55 278.2" stroke="#a8a8a8" stroke-width="1.05" fill="none" stroke-linejoin="round" stroke-linecap="round"/>
<path d="M138.75 281.5 A10.4 4.2 0 0 0 159.55 281.5" stroke="#a8a8a8" stroke-width="1.05" fill="none" stroke-linejoin="round" stroke-linecap="round"/>
<path d="M136 281 L136 283.5 L131.1 325.4 M161.9 281 L161.9 283.5 L166.8 325.4" stroke="#a8a8a8" stroke-width="1.1" fill="none" stroke-linejoin="round" stroke-linecap="round"/>
<path d="M136 283 A13 4 0 0 0 162 283" stroke="#a8a8a8" stroke-width="1.05" fill="none" stroke-linejoin="round" stroke-linecap="round"/>
<path d="M133.4 300.5 A15.6 5.3 0 0 0 164.6 300.5" stroke="#a8a8a8" stroke-width="1.05" fill="none" stroke-linejoin="round" stroke-linecap="round"/>
<path d="M131.8 313.5 A17.2 6 0 0 0 166.2 313.5" stroke="#a8a8a8" stroke-width="1.05" fill="none" stroke-linejoin="round" stroke-linecap="round"/>
<path d="M128.8 328.8 L128.8 366.8 M168.5 328.8 L168.5 366.8 M131.1 325.4 L128.8 328.8 M166.8 325.4 L168.5 328.8" stroke="#a8a8a8" stroke-width="1.1" fill="none" stroke-linejoin="round" stroke-linecap="round"/>
<path d="M131.4 324.8 A17.8 7.5 0 0 0 167 324.8" stroke="#a8a8a8" stroke-width="1.05" fill="none" stroke-linejoin="round" stroke-linecap="round"/>
<path d="M128.8 328.8 A19.85 7.5 0 0 0 168.5 328.8" stroke="#a8a8a8" stroke-width="1.05" fill="none" stroke-linejoin="round" stroke-linecap="round"/>
<path d="M128.8 331.1 A19.85 9.2 0 0 0 168.5 331.1" stroke="#a8a8a8" stroke-width="1.05" fill="none" stroke-linejoin="round" stroke-linecap="round"/>
<path d="M128.8 346.1 A19.85 8.6 0 0 0 168.5 346.1" stroke="#a8a8a8" stroke-width="1.05" fill="none" stroke-linejoin="round" stroke-linecap="round"/>
<path d="M128.8 366.8 A19.85 9.2 0 0 0 168.5 366.8" stroke="#a8a8a8" stroke-width="1.05" fill="none" stroke-linejoin="round" stroke-linecap="round"/>
<path d="M122.5 369.7 C123.08 371.08 123.75 375.62 126 378 C128.25 380.38 132.08 382.67 136 384 C139.92 385.33 145.17 385.92 149.5 386 C153.83 386.08 158.42 385.83 162 384.5 C165.58 383.17 169.13 380.02 171 378 C172.87 375.98 172.83 373.33 173.2 372.4" stroke="#a8a8a8" stroke-width="1.2" fill="none" stroke-linejoin="round" stroke-linecap="round"/>
<path d="M169.2 357.9 C170.33 358.33 174.25 359.4 176 360.5 C177.75 361.6 178.87 363.25 179.7 364.5 C180.53 365.75 180.78 367.42 181 368" stroke="#a8a8a8" stroke-width="1.2" fill="none" stroke-linejoin="round" stroke-linecap="round"/>
<path d="M98 364.5 C96.47 365.85 90.9 369.72 88.8 372.6 C86.7 375.48 85.97 380.27 85.4 381.8" stroke="#a8a8a8" stroke-width="1.2" fill="none" stroke-linejoin="round" stroke-linecap="round"/>
<line x1="85.4" y1="381.8" x2="86.5" y2="396.8" stroke="#a8a8a8" stroke-width="1.2"/>
<path d="M85.4 381.8 C87.5 383.53 92.07 388.93 98 392.2 C103.93 395.47 113.32 399.3 121 401.4 C128.68 403.5 140.25 404.23 144.1 404.8" stroke="#a8a8a8" stroke-width="1.2" fill="none" stroke-linejoin="round" stroke-linecap="round"/>
<path d="M86.5 396.8 C89.18 398.72 96.07 405.43 102.6 408.3 C109.13 411.17 118.78 412.85 125.7 414 C132.62 415.15 141.03 415 144.1 415.2" stroke="#a8a8a8" stroke-width="1.2" fill="none" stroke-linejoin="round" stroke-linecap="round"/>
<path d="M98 364.5 L107.2 361.1 L128.5 357.6" stroke="#a8a8a8" stroke-width="1.2" fill="none" stroke-linejoin="round"/>
<path d="M98 364.5 C98.2 366.42 97.28 372.15 99.2 376 C101.12 379.85 104.42 384.92 109.5 387.6 C114.58 390.28 122.6 391.78 129.7 392.1 C136.8 392.42 148.37 389.93 152.1 389.5" stroke="#a8a8a8" stroke-width="1.2" fill="none" stroke-linejoin="round" stroke-linecap="round"/>
<path d="M107.2 361.1 C107.58 362.82 106.83 367.77 109.5 371.4 C112.17 375.03 117.63 380.1 123.2 382.9 C128.77 385.7 136.77 387.43 142.9 388.2 C149.03 388.97 157.15 387.62 160 387.5" stroke="#a8a8a8" stroke-width="1.2" fill="none" stroke-linejoin="round" stroke-linecap="round"/>
<line x1="144.1" y1="404.8" x2="144.1" y2="419.5" stroke="#a8a8a8" stroke-width="1.2"/>
<path d="M168.9 342.1 C171.22 342.82 178.7 344.08 182.8 346.4 C186.9 348.72 190.92 352.62 193.5 356 C196.08 359.38 197.33 363.48 198.3 366.7 C199.27 369.92 199.75 373.07 199.3 375.3 C198.85 377.53 196.22 379.3 195.6 380.1" stroke="#a8a8a8" stroke-width="1.2" fill="none" stroke-linejoin="round" stroke-linecap="round"/>
<path d="M168.9 347 C170.5 347.62 176.55 349.02 178.5 350.7 C180.45 352.38 180.42 355.13 180.6 357.1 C180.78 359.07 179.77 361.6 179.6 362.5" stroke="#a8a8a8" stroke-width="1.2" fill="none" stroke-linejoin="round" stroke-linecap="round"/>
<path d="M168.9 358.2 C170.13 358.63 174.17 359.73 176.3 360.8 C178.43 361.87 180.72 362.9 181.7 364.6 C182.68 366.3 182.12 369.93 182.2 371" stroke="#a8a8a8" stroke-width="1.2" fill="none" stroke-linejoin="round" stroke-linecap="round"/>
<line x1="182.8" y1="368.9" x2="196.7" y2="361.9" stroke="#a8a8a8" stroke-width="1.2"/>
<line x1="182.8" y1="368.9" x2="195.6" y2="380.1" stroke="#a8a8a8" stroke-width="1.2"/>
<path d="M178 386 C179.15 386.7 182.32 390.03 184.9 390.2 C187.48 390.37 191.72 388.68 193.5 387 C195.28 385.32 195.25 381.25 195.6 380.1" stroke="#a8a8a8" stroke-width="1.2" fill="none" stroke-linejoin="round" stroke-linecap="round"/>
<path d="M177.4 389.2 L179.6 375.3 L181.2 372" stroke="#a8a8a8" stroke-width="1.2" fill="none" stroke-linejoin="round"/>
<path d="M160.3 386 C161.73 384.75 165.42 380.65 168.9 378.5 C172.38 376.35 179.15 374 181.2 373.1" stroke="#a8a8a8" stroke-width="1.2" fill="none" stroke-linejoin="round" stroke-linecap="round"/>
<line x1="174.2" y1="367.8" x2="174.2" y2="375.3" stroke="#a8a8a8" stroke-width="1.2"/>
<path d="M152.3 393.5 L159.2 388.1 L160.3 386" stroke="#a8a8a8" stroke-width="1.2" fill="none" stroke-linejoin="round"/>
<path d="M162.4 398.3 L176.9 389.7" stroke="#a8a8a8" stroke-width="1.2" fill="none" stroke-linejoin="round"/>
<path d="M167.3 395.6 L167.3 400.9 L159.2 405.2 L146.4 420" stroke="#a8a8a8" stroke-width="1.2" fill="none" stroke-linejoin="round"/>
<path d="M142.6 431.6 L142.6 437 A23.3 13.4 0 0 0 189.2 437 L189.2 431.6" stroke="#3a3a3a" stroke-width="1.2" fill="#fff" stroke-linejoin="round" stroke-linecap="round"/>
<ellipse cx="165.9" cy="431.6" rx="23.3" ry="13.4" stroke="#3a3a3a" stroke-width="1.2" fill="#fff"/>
<ellipse cx="166.2" cy="431.8" rx="13.8" ry="6.6" stroke="#3a3a3a" stroke-width="1.2" fill="none"/>
<text x="95.5" y="433" font-size="11.5" fill="#3a3a3a" stroke="#3a3a3a" stroke-width="0.35" text-anchor="middle" dominant-baseline="central">9</text>
<line x1="102.5" y1="431.5" x2="142.5" y2="431.5" stroke="#3a3a3a" stroke-width="1.2"/>
<line x1="225.7" y1="429.2" x2="175" y2="452.2" stroke="#3a3a3a" stroke-width="1.2"/>
<line x1="229" y1="431.8" x2="177.6" y2="454.5" stroke="#3a3a3a" stroke-width="1.2"/>
<path d="M188.2 458.2 C195.22 454.03 222.7 436.98 230.3 433.2 C237.9 429.42 233.37 434.42 233.8 435.5 C234.23 436.58 233.05 439 232.9 439.7" stroke="#3a3a3a" stroke-width="1.2" fill="none" stroke-linejoin="round" stroke-linecap="round"/>
<line x1="232.9" y1="439.7" x2="190" y2="465" stroke="#3a3a3a" stroke-width="1.2"/>
<path d="M252.6 433.2 C251.5 433.58 247.97 434.63 246 435.5 C244.03 436.37 241.67 437.92 240.8 438.4" stroke="#3a3a3a" stroke-width="1.2" fill="none" stroke-linejoin="round" stroke-linecap="round"/>
<line x1="240.8" y1="438.4" x2="193.4" y2="470" stroke="#3a3a3a" stroke-width="1.2"/>
<path d="M254 445.7 C252.67 445.75 248.2 445.7 246 446 C243.8 446.3 241.67 447.25 240.8 447.5" stroke="#3a3a3a" stroke-width="1.2" fill="none" stroke-linejoin="round" stroke-linecap="round"/>
<line x1="240.8" y1="447.5" x2="197" y2="474.5" stroke="#3a3a3a" stroke-width="1.2"/>
<path d="M231.7 419 L226 429.2 M269.6 419.7 L268.8 444.4" stroke="#3a3a3a" stroke-width="1.2" fill="none" stroke-linejoin="round" stroke-linecap="round"/>
<path d="M240.8 447.5 C242.33 447.75 246.47 449 250 449 C253.53 449 258.87 448.27 262 447.5 C265.13 446.73 267.67 444.92 268.8 444.4" stroke="#3a3a3a" stroke-width="1.2" fill="none" stroke-linejoin="round" stroke-linecap="round"/>
<ellipse cx="250.6" cy="418.4" rx="19" ry="12" stroke="#3a3a3a" stroke-width="1.2" fill="#fff"/>
<ellipse cx="249.8" cy="416" rx="12.3" ry="7" stroke="#3a3a3a" stroke-width="1.2" fill="none"/>
<path d="M244 435.7 C245.83 435.92 250.83 437.53 255 437 C259.17 436.47 266.67 433.25 269 432.5" stroke="#3a3a3a" stroke-width="1.2" fill="none" stroke-linejoin="round" stroke-linecap="round"/>
<path d="M139.2 468 C139.1 470.2 138.38 477.37 138.6 481.2 C138.82 485.03 138.65 488.15 140.5 491 C142.35 493.85 144.87 496.32 149.7 498.3 C154.53 500.28 163.35 502.9 169.5 502.9 C175.65 502.9 181.78 500.83 186.6 498.3 C191.42 495.77 194.5 492.32 198.4 487.7 C202.3 483.08 208.07 473.45 210 470.6" stroke="#3a3a3a" stroke-width="1.2" fill="none" stroke-linejoin="round" stroke-linecap="round"/>
<path d="M139.9 485.1 C142.2 486.42 148.77 491.25 153.7 493 C158.63 494.75 164.68 495.6 169.5 495.6 C174.32 495.6 179.1 494.1 182.6 493 C186.1 491.9 189.18 489.67 190.5 489" stroke="#3a3a3a" stroke-width="1.2" fill="none" stroke-linejoin="round" stroke-linecap="round"/>
<path d="M191.8 485.1 C192.5 483.92 194.63 480.02 196 478 C197.37 475.98 198.33 474.5 200 473 C201.67 471.5 205 469.67 206 469" stroke="#3a3a3a" stroke-width="1" fill="none" stroke-linejoin="round" stroke-linecap="round"/>
<path d="M183 485 C183.25 484.75 183.92 483.42 184.5 483.5 C185.08 483.58 186 484.25 186.5 485.5 C187 486.75 187.75 489.75 187.5 491 C187.25 492.25 185.75 493.17 185 493 C184.25 492.83 183.33 491.33 183 490 C182.67 488.67 183 485.83 183 485" stroke="#3a3a3a" stroke-width="1" fill="none" stroke-linejoin="round" stroke-linecap="round"/>
<path d="M141.4 465 C142.12 463.83 143.38 459.62 145.7 458 C148.02 456.38 152.27 456.02 155.3 455.3 C158.33 454.58 160.33 453.7 163.9 453.7 C167.47 453.7 173.15 454.32 176.7 455.3 C180.25 456.28 182.8 457.98 185.2 459.6 C187.6 461.22 189.93 463.03 191.1 465 C192.27 466.97 192.47 469.45 192.2 471.4 C191.93 473.35 191.2 475.1 189.5 476.7 C187.8 478.3 185.2 479.75 182 481 C178.8 482.25 174.57 483.85 170.3 484.2 C166.03 484.55 160.32 483.98 156.4 483.1 C152.48 482.22 149.38 480.85 146.8 478.9 C144.22 476.95 141.8 473.72 140.9 471.4 C140 469.08 141.32 466.07 141.4 465" stroke="#3a3a3a" stroke-width="1.2" fill="#fff" stroke-linejoin="round" stroke-linecap="round"/>
<ellipse cx="167" cy="468.3" rx="18.5" ry="8.6" stroke="#3a3a3a" stroke-width="1.2" fill="none"/>
<path d="M151.5 477.5 A15 4 0 0 1 181.5 477.5" stroke="#3a3a3a" stroke-width="1" fill="none" stroke-linejoin="round" stroke-linecap="round"/>
<path d="M150.5 466 C150.17 466.67 148.58 468.67 148.5 470 C148.42 471.33 149.25 473.25 150 474 C150.75 474.75 152.33 475.17 153 474.5 C153.67 473.83 154.17 471.33 154 470 C153.83 468.67 152.58 467.17 152 466.5 C151.42 465.83 150.75 466.08 150.5 466" stroke="#3a3a3a" stroke-width="1" fill="none" stroke-linejoin="round" stroke-linecap="round"/>
<line x1="149.13" y1="466.07" x2="142.06" y2="465.17" stroke="#3a3a3a" stroke-width="1"/>
<line x1="150.23" y1="464.67" x2="143.57" y2="462.75" stroke="#3a3a3a" stroke-width="1"/>
<line x1="157.75" y1="460.85" x2="153.85" y2="456.18" stroke="#3a3a3a" stroke-width="1"/>
<line x1="160.67" y1="460.22" x2="157.85" y2="455.09" stroke="#3a3a3a" stroke-width="1"/>
<line x1="171.79" y1="459.99" x2="173.05" y2="454.7" stroke="#3a3a3a" stroke-width="1"/>
<line x1="174.82" y1="460.51" x2="177.19" y2="455.59" stroke="#3a3a3a" stroke-width="1"/>
<line x1="183.77" y1="464.67" x2="189.43" y2="462.75" stroke="#3a3a3a" stroke-width="1"/>
<line x1="184.87" y1="466.07" x2="190.94" y2="465.17" stroke="#3a3a3a" stroke-width="1"/>
<line x1="184.87" y1="470.53" x2="190.94" y2="472.83" stroke="#3a3a3a" stroke-width="1"/>
<line x1="183.77" y1="471.93" x2="189.43" y2="475.25" stroke="#3a3a3a" stroke-width="1"/>
<line x1="174.82" y1="476.09" x2="177.19" y2="482.41" stroke="#3a3a3a" stroke-width="1"/>
<line x1="171.79" y1="476.61" x2="173.05" y2="483.3" stroke="#3a3a3a" stroke-width="1"/>
<line x1="160.67" y1="476.38" x2="157.85" y2="482.91" stroke="#3a3a3a" stroke-width="1"/>
<line x1="157.75" y1="475.75" x2="153.85" y2="481.82" stroke="#3a3a3a" stroke-width="1"/>
<line x1="150.23" y1="471.93" x2="143.57" y2="475.25" stroke="#3a3a3a" stroke-width="1"/>
<line x1="149.13" y1="470.53" x2="142.06" y2="472.83" stroke="#3a3a3a" stroke-width="1"/>
<text x="96" y="484" font-size="11.5" fill="#3a3a3a" stroke="#3a3a3a" stroke-width="0.35" text-anchor="middle" dominant-baseline="central">7</text>
<line x1="102.5" y1="483.5" x2="139" y2="482" stroke="#3a3a3a" stroke-width="1.2"/>
<path d="M250.5 453.2 L250.5 476.8 L297.4 450.5 L297.4 483.4" stroke="#3a3a3a" stroke-width="1.2" fill="none" stroke-linejoin="round"/>
<path d="M284.3 497 L284.3 502 A19.7 10.2 0 0 0 323.7 502 L323.7 497" stroke="#3a3a3a" stroke-width="1.2" fill="#fff" stroke-linejoin="round" stroke-linecap="round"/>
<ellipse cx="304" cy="497" rx="19.7" ry="10.2" stroke="#3a3a3a" stroke-width="1.2" fill="#fff"/>
<ellipse cx="304.5" cy="497.9" rx="14.5" ry="6.6" stroke="#3a3a3a" stroke-width="1.2" fill="none"/>
<text x="373.8" y="497.5" font-size="11.5" fill="#3a3a3a" stroke="#3a3a3a" stroke-width="0.35" text-anchor="middle" dominant-baseline="central">17</text>
<line x1="324.7" y1="496" x2="361" y2="496" stroke="#3a3a3a" stroke-width="1.2"/>
<path d="M146.4 523 L146.4 542 A19 10 0 0 0 184.6 542 L184.6 523" stroke="#6a6a6a" stroke-width="1.1" fill="#fff" stroke-linejoin="round" stroke-linecap="round"/>
<path d="M146.5 537.5 A19 9.5 0 0 0 184.5 537.5" stroke="#6a6a6a" stroke-width="1" fill="none" stroke-linejoin="round" stroke-linecap="round"/>
<ellipse cx="165.5" cy="523" rx="19" ry="10.3" stroke="#6a6a6a" stroke-width="1.1" fill="none"/>
<ellipse cx="165.9" cy="523" rx="14.2" ry="7.6" stroke="#6a6a6a" stroke-width="1.1" fill="none"/>
<line x1="152.93" y1="521.1" x2="152.93" y2="528.5" stroke="#6a6a6a" stroke-width="0.9"/>
<line x1="154.46" y1="519.52" x2="154.46" y2="526.92" stroke="#6a6a6a" stroke-width="0.9"/>
<line x1="156.67" y1="518.18" x2="156.67" y2="525.58" stroke="#6a6a6a" stroke-width="0.9"/>
<line x1="159.42" y1="517.15" x2="159.42" y2="524.55" stroke="#6a6a6a" stroke-width="0.9"/>
<line x1="162.56" y1="516.52" x2="162.56" y2="523.92" stroke="#6a6a6a" stroke-width="0.9"/>
<line x1="165.9" y1="516.3" x2="165.9" y2="523.7" stroke="#6a6a6a" stroke-width="0.9"/>
<line x1="169.24" y1="516.52" x2="169.24" y2="523.92" stroke="#6a6a6a" stroke-width="0.9"/>
<line x1="172.38" y1="517.15" x2="172.38" y2="524.55" stroke="#6a6a6a" stroke-width="0.9"/>
<line x1="175.13" y1="518.18" x2="175.13" y2="525.58" stroke="#6a6a6a" stroke-width="0.9"/>
<line x1="177.34" y1="519.52" x2="177.34" y2="526.92" stroke="#6a6a6a" stroke-width="0.9"/>
<line x1="178.87" y1="521.1" x2="178.87" y2="528.5" stroke="#6a6a6a" stroke-width="0.9"/>
<line x1="147.89" y1="525.94" x2="147.89" y2="538.68" stroke="#6a6a6a" stroke-width="0.9"/>
<line x1="149.19" y1="528.15" x2="149.19" y2="540.71" stroke="#6a6a6a" stroke-width="0.9"/>
<line x1="151.32" y1="530.14" x2="151.32" y2="542.55" stroke="#6a6a6a" stroke-width="0.9"/>
<line x1="154.17" y1="531.8" x2="154.17" y2="544.08" stroke="#6a6a6a" stroke-width="0.9"/>
<line x1="157.61" y1="533.06" x2="157.61" y2="545.24" stroke="#6a6a6a" stroke-width="0.9"/>
<line x1="161.45" y1="533.84" x2="161.45" y2="545.96" stroke="#6a6a6a" stroke-width="0.9"/>
<line x1="165.5" y1="534.1" x2="165.5" y2="546.2" stroke="#6a6a6a" stroke-width="0.9"/>
<line x1="169.55" y1="533.84" x2="169.55" y2="545.96" stroke="#6a6a6a" stroke-width="0.9"/>
<line x1="173.39" y1="533.06" x2="173.39" y2="545.24" stroke="#6a6a6a" stroke-width="0.9"/>
<line x1="176.83" y1="531.8" x2="176.83" y2="544.08" stroke="#6a6a6a" stroke-width="0.9"/>
<line x1="179.68" y1="530.14" x2="179.68" y2="542.55" stroke="#6a6a6a" stroke-width="0.9"/>
<line x1="181.81" y1="528.15" x2="181.81" y2="540.71" stroke="#6a6a6a" stroke-width="0.9"/>
<line x1="183.11" y1="525.94" x2="183.11" y2="538.68" stroke="#6a6a6a" stroke-width="0.9"/>
<path d="M143 570.4 L143 575.5 A22.8 12.5 0 0 0 188.6 575.5 L188.6 570.4" stroke="#a8a8a8" stroke-width="1.1" fill="#fff" stroke-linejoin="round" stroke-linecap="round"/>
<ellipse cx="165.8" cy="570.4" rx="22.8" ry="12.5" stroke="#a8a8a8" stroke-width="1.1" fill="none"/>
<ellipse cx="166.2" cy="572" rx="14.2" ry="7.4" stroke="#a8a8a8" stroke-width="1.1" fill="none"/>
<line x1="129.6" y1="676" x2="129.6" y2="700.5" stroke="#3a3a3a" stroke-width="1.2"/>
<line x1="154" y1="676" x2="154" y2="700.5" stroke="#3a3a3a" stroke-width="1.2"/>
<path d="M129.6 696.5 A12.2 4.5 0 0 0 154 696.5" stroke="#3a3a3a" stroke-width="1.2" fill="none" stroke-linejoin="round" stroke-linecap="round"/>
<path d="M82.6 621.8 L130.6 611.2 L130.6 618" stroke="#3a3a3a" stroke-width="1.2" fill="none" stroke-linejoin="round"/>
<path d="M82.6 621.8 C82.82 623.18 83.03 627.4 83.9 630.1 C84.77 632.8 85.83 635.37 87.8 638 C89.77 640.63 92.73 643.6 95.7 645.9 C98.67 648.2 102.22 650.27 105.6 651.8 C108.98 653.33 112.27 654.15 116 655.1 C119.73 656.05 123.32 656.95 128 657.5 C132.68 658.05 141.42 658.25 144.1 658.4" stroke="#3a3a3a" stroke-width="1.2" fill="none" stroke-linejoin="round" stroke-linecap="round"/>
<path d="M82.3 637.4 C82.9 638.6 84.22 642.2 85.9 644.6 C87.58 647 89.67 649.38 92.4 651.8 C95.13 654.22 98.37 657.02 102.3 659.1 C106.23 661.18 111.38 663.02 116 664.3 C120.62 665.58 125.32 666.25 130 666.8 C134.68 667.35 141.75 667.47 144.1 667.6" stroke="#3a3a3a" stroke-width="1.2" fill="none" stroke-linejoin="round" stroke-linecap="round"/>
<path d="M86.2 647.9 C86.58 649 87.57 652.53 88.5 654.5 C89.43 656.47 90.38 658.07 91.8 659.7 C93.22 661.33 94.92 662.93 97 664.3 C99.08 665.67 99.8 666.25 104.3 667.9 C108.8 669.55 116.38 672.68 124 674.2 C131.62 675.72 145.67 676.53 150 677" stroke="#3a3a3a" stroke-width="1.2" fill="none" stroke-linejoin="round" stroke-linecap="round"/>
<line x1="163.8" y1="632.8" x2="144.1" y2="658.4" stroke="#3a3a3a" stroke-width="1.2"/>
<path d="M144.1 658.4 L144.7 667.6 L150 676.8 L155.3 674.2 L155.9 667.6" stroke="#3a3a3a" stroke-width="1.2" fill="none" stroke-linejoin="round"/>
<path d="M155.9 667.6 C157.33 665.63 160.43 658.87 164.5 655.8 C168.57 652.73 175.27 651.4 180.3 649.2 C185.33 647 191.53 645.02 194.7 642.6 C197.87 640.18 198.63 637.1 199.3 634.7 C199.97 632.3 199.25 629.52 198.7 628.2 C198.15 626.88 196.45 627.03 196 626.8" stroke="#3a3a3a" stroke-width="1.2" fill="none" stroke-linejoin="round" stroke-linecap="round"/>
<ellipse cx="165.8" cy="611.8" rx="28.5" ry="16.5" stroke="#3a3a3a" stroke-width="1.2" fill="#fff"/>
<path d="M159.2 629.5 C161.83 629.33 170.53 629.42 175 628.5 C179.47 627.58 182.93 625.82 186 624 C189.07 622.18 192.03 619.6 193.4 617.6 C194.77 615.6 194.07 612.93 194.2 612" stroke="#3a3a3a" stroke-width="1.2" fill="none" stroke-linejoin="round" stroke-linecap="round"/>
<ellipse cx="142.5" cy="627" rx="16.3" ry="9" stroke="#3a3a3a" stroke-width="1.2" fill="#fff"/>
<path d="M138.5 618 C139.58 618.22 142.72 618.88 145 619.3 C147.28 619.72 150.37 619.72 152.2 620.5 C154.03 621.28 155.07 622.58 156 624 C156.93 625.42 157.5 628.17 157.8 629" stroke="#3a3a3a" stroke-width="1.2" fill="none" stroke-linejoin="round" stroke-linecap="round"/>
<ellipse cx="166.2" cy="611.7" rx="12.8" ry="7.9" stroke="#3a3a3a" stroke-width="1.2" fill="none"/>
<path d="M154.5 615.5 A11.5 4.5 0 0 1 177.5 615.5" stroke="#3a3a3a" stroke-width="1" fill="none" stroke-linejoin="round" stroke-linecap="round"/>
<path d="M178.9 634.7 L180.3 647.9" stroke="#3a3a3a" stroke-width="1.2" fill="none" stroke-linejoin="round"/>
<path d="M173.7 630.8 C175.08 631.2 179.15 632.77 182 633.2 C184.85 633.63 188.47 634.27 190.8 633.4 C193.13 632.53 195.13 628.9 196 628" stroke="#3a3a3a" stroke-width="1.2" fill="none" stroke-linejoin="round" stroke-linecap="round"/>
<path d="M193.4 625.5 C194.07 624.85 197.3 623.02 197.4 621.6 C197.5 620.18 194.57 617.77 194 617" stroke="#3a3a3a" stroke-width="1.2" fill="none" stroke-linejoin="round" stroke-linecap="round"/>
<text x="31.5" y="637.5" font-size="11.5" fill="#3a3a3a" stroke="#3a3a3a" stroke-width="0.35" text-anchor="middle" dominant-baseline="central">1</text>
<line x1="39" y1="636" x2="82.5" y2="635" stroke="#3a3a3a" stroke-width="1.2"/>
<path d="M106.2 728 L106.2 744 M177.2 728 L177.2 744" stroke="#3a3a3a" stroke-width="1.2" fill="none" stroke-linejoin="round" stroke-linecap="round"/>
<path d="M106.2 744 A35.5 19.5 0 0 0 177.2 744" stroke="#3a3a3a" stroke-width="1.2" fill="none" stroke-linejoin="round" stroke-linecap="round"/>
<path d="M105.2 740 A36.5 20 0 0 0 178.2 740" stroke="#3a3a3a" stroke-width="1.2" fill="none" stroke-linejoin="round" stroke-linecap="round"/>
<path d="M105.7 736 A36 20 0 0 0 177.7 736" stroke="#3a3a3a" stroke-width="1.2" fill="none" stroke-linejoin="round" stroke-linecap="round"/>
<ellipse cx="141.7" cy="728" rx="35.5" ry="21.4" stroke="#3a3a3a" stroke-width="1.2" fill="#fff"/>
<ellipse cx="141.9" cy="727.6" rx="29.6" ry="16.9" stroke="#3a3a3a" stroke-width="1.2" fill="none"/>
<ellipse cx="141.9" cy="728" rx="28" ry="14.5" stroke="#3a3a3a" stroke-width="1" fill="none"/>
<ellipse cx="142.3" cy="728.8" rx="18.5" ry="10.7" stroke="#3a3a3a" stroke-width="1.2" fill="none"/>
<ellipse cx="142.3" cy="728" rx="12.7" ry="7.4" stroke="#3a3a3a" stroke-width="1.2" fill="none"/>
<text x="44" y="733" font-size="11.5" fill="#3a3a3a" stroke="#3a3a3a" stroke-width="0.35" text-anchor="middle" dominant-baseline="central">11</text>
<line x1="52.5" y1="734.5" x2="106.5" y2="734.5" stroke="#3a3a3a" stroke-width="1.2"/>
<path d="M105.2 794.2 L105.2 812 M178.9 794.2 L178.9 812" stroke="#3a3a3a" stroke-width="1.2" fill="none" stroke-linejoin="round" stroke-linecap="round"/>
<path d="M105.2 812 A36.8 15 0 0 0 178.8 812" stroke="#3a3a3a" stroke-width="1.2" fill="none" stroke-linejoin="round" stroke-linecap="round"/>
<path d="M105.2 807 A36.8 17.5 0 0 0 178.8 807" stroke="#3a3a3a" stroke-width="1.2" fill="none" stroke-linejoin="round" stroke-linecap="round"/>
<path d="M105.2 802 A36.8 19.5 0 0 0 178.8 802" stroke="#3a3a3a" stroke-width="1.2" fill="none" stroke-linejoin="round" stroke-linecap="round"/>
<ellipse cx="142" cy="794.2" rx="36.8" ry="20.2" stroke="#3a3a3a" stroke-width="1.2" fill="#fff"/>
<ellipse cx="142.3" cy="794.6" rx="30" ry="16.4" stroke="#3a3a3a" stroke-width="1.2" fill="none"/>
<ellipse cx="141.5" cy="794.6" rx="20" ry="12.3" stroke="#3a3a3a" stroke-width="1.2" fill="none"/>
<path d="M122.9 797.5 A18.6 11 0 0 1 160.1 797.5" stroke="#3a3a3a" stroke-width="1" fill="none" stroke-linejoin="round" stroke-linecap="round"/>
<path d="M124 799.5 A17.5 9.5 0 0 1 159 799.5" stroke="#3a3a3a" stroke-width="1" fill="none" stroke-linejoin="round" stroke-linecap="round"/>
<path d="M125 801.5 A16.5 8.2 0 0 1 158 801.5" stroke="#3a3a3a" stroke-width="1" fill="none" stroke-linejoin="round" stroke-linecap="round"/>
<text x="53.5" y="803" font-size="11.5" fill="#3a3a3a" stroke="#3a3a3a" stroke-width="0.35" text-anchor="middle" dominant-baseline="central">6</text>
<line x1="59" y1="802" x2="106" y2="802" stroke="#3a3a3a" stroke-width="1.2"/>
<path d="M180.1 865.4 L179.45 867.06 L178.61 868.69 L177.57 870.28 L176.33 871.82 L174.91 873.3 L173.31 874.72 L171.55 876.07 L169.62 877.33 L167.54 878.51 L165.32 879.6 L162.97 880.59 L160.51 881.48 L157.95 882.26 L155.3 882.93 L152.57 883.49 L149.78 883.92 L146.95 884.24 L144.08 884.43 L141.2 884.5 L138.32 884.45 L135.45 884.27 L132.61 883.97 L129.81 883.55 L127.07 883.01 L124.41 882.36 L121.83 881.6 L119.36 880.72 L117 879.74 L114.76 878.67 L112.66 877.5 L110.71 876.25 L108.92 874.91 L107.3 873.5 L105.85 872.03 L104.59 870.5 L103.52 868.91 L102.65 867.29 L101.98 865.63 L101.52 863.95 L101.26 862.26 L101.21 860.55 L101.37 858.85 L101.73 857.16 L102.31 855.5 L103.08 853.86 L104.06 852.25 L105.23 850.7 L106.59 849.19 L108.13 847.75 L109.84 846.38 L111.71 845.09 L113.74 843.88 L115.91 842.76 L118.22 841.73 L120.64 840.81 L123.17 839.99 L125.79 839.28 L128.5 838.69 L131.27 838.21 L134.09 837.86" stroke="#a0a0a0" stroke-width="1.1" fill="none" stroke-linejoin="round"/>
<path d="M171.62 866.11 L171.05 867.25 L170.35 868.36 L169.51 869.44 L168.54 870.49 L167.45 871.5 L166.24 872.47 L164.92 873.39 L163.49 874.26 L161.95 875.07 L160.32 875.82 L158.6 876.51 L156.81 877.14 L154.94 877.69 L153.01 878.18 L151.02 878.59 L148.99 878.93 L146.92 879.19 L144.83 879.37 L142.72 879.47 L140.6 879.5 L138.48 879.44 L136.37 879.31 L134.29 879.1 L132.23 878.81 L130.22 878.44 L128.25 878 L126.34 877.49 L124.5 876.91 L122.73 876.26 L121.05 875.54 L119.45 874.77 L117.96 873.93 L116.56 873.04 L115.28 872.11 L114.12 871.12 L113.07 870.1 L112.16 869.04 L111.37 867.94 L110.72 866.82 L110.2 865.68 L109.83 864.52 L109.59 863.35 L109.5 862.17 L109.55 860.99 L109.74 859.82 L110.08 858.66 L110.55 857.51 L111.17 856.38 L111.91 855.28 L112.79 854.21 L113.8 853.17 L114.93 852.18 L116.18 851.23 L117.54 850.32 L119.01 849.47 L120.57 848.68 L122.23 847.95 L123.98 847.28 L125.8 846.67 L127.69 846.14" stroke="#a0a0a0" stroke-width="1.1" fill="none" stroke-linejoin="round"/>
<path d="M179.44 871.08 L178.8 872.36 L178.03 873.62 L177.14 874.85 L176.13 876.05 L175.01 877.21 L173.78 878.33 L172.44 879.41 L171 880.44 L169.47 881.42 L167.84 882.35 L166.12 883.23 L164.33 884.04 L162.45 884.79 L160.51 885.48 L158.51 886.1 L156.45 886.66 L154.34 887.14 L152.18 887.55 L149.99 887.89 L147.77 888.16 L145.53 888.35 L143.28 888.46 L141.01 888.5 L138.75 888.46 L136.49 888.35 L134.25 888.16 L132.03 887.9 L129.84 887.56 L127.69 887.15 L125.58 886.66 L123.52 886.11 L121.51 885.49 L119.57 884.8 L117.7 884.05 L115.9 883.24 L114.18 882.36 L112.55 881.44 L111.02 880.45 L109.58 879.42 L108.24 878.34 L107.01 877.22 L105.88 876.06 L104.88 874.86 L103.98 873.64 L103.21 872.38 L102.56 871.1 L102.04 869.8 L101.64 868.48 L101.37 867.15 L101.22 865.82" stroke="#a0a0a0" stroke-width="1.1" fill="none" stroke-linejoin="round"/>
<line x1="133.6" y1="837.4" x2="127" y2="845.6" stroke="#a0a0a0" stroke-width="1.1"/>
<line x1="181.3" y1="865.4" x2="172.2" y2="866.2" stroke="#a0a0a0" stroke-width="1.1"/>
<line x1="181.3" y1="865.4" x2="181.2" y2="869.5" stroke="#a0a0a0" stroke-width="1.1"/>
<line x1="133.6" y1="837.4" x2="134.5" y2="840.5" stroke="#a0a0a0" stroke-width="1.1"/>
<line x1="134.5" y1="840.5" x2="128.5" y2="848" stroke="#a0a0a0" stroke-width="1.1"/>
<clipPath id="pc2"><path d="M463.7 625.5 L580 563 L620 563 L620 640 L494.3 694.6 Z"/></clipPath>
<g clip-path="url(#pc2)">
<path d="M540.63 666.9 L541.95 666.52 L543.22 666.02 L544.43 665.42 L545.58 664.7 L546.67 663.88 L547.69 662.95 L548.64 661.93 L549.51 660.8 L550.3 659.58 L551.01 658.27 L551.64 656.88 L552.18 655.4 L552.64 653.85 L553 652.23 L553.28 650.54 L553.46 648.8 L553.56 647 L553.56 645.15 L553.47 643.26 L553.29 641.34 L553.01 639.39 L552.65 637.42 L552.2 635.43 L551.66 633.44 L551.03 631.44 L550.32 629.45 L549.53 627.47 L548.66 625.51 L547.72 623.58 L546.7 621.67 L545.62 619.81 L544.47 617.99 L543.25 616.22 L541.98 614.51 L540.66 612.86 L539.29 611.28 L537.88 609.77 L536.43 608.34 L534.94 606.99 L533.42 605.74 L531.88 604.57 L530.33 603.5 L528.75 602.53 L527.17 601.67 L525.59 600.91 L524.01 600.26 L522.44 599.72 L520.88 599.29 L519.34 598.98 L517.82 598.78 L516.33 598.7 L514.88 598.73 L513.47 598.88 L512.09 599.14 L510.77 599.52 L509.5 600.02 L508.29 600.62 L507.14 601.34 L506.05 602.16 L505.03 603.09" stroke="#b0b0b0" stroke-width="1.1" fill="none" stroke-linejoin="round"/>
<path d="M536.61 669.14 L537.93 668.76 L539.2 668.26 L540.42 667.66 L541.57 666.94 L542.66 666.12 L543.67 665.19 L544.62 664.17 L545.49 663.04 L546.28 661.82 L547 660.51 L547.62 659.12 L548.17 657.64 L548.62 656.09 L548.99 654.47 L549.26 652.78 L549.45 651.04 L549.54 649.24 L549.54 647.39 L549.45 645.5 L549.27 643.58 L549 641.63 L548.63 639.66 L548.18 637.67 L547.64 635.68 L547.01 633.68 L546.3 631.69 L545.51 629.71 L544.65 627.75 L543.7 625.82 L542.69 623.91 L541.6 622.05 L540.45 620.23 L539.24 618.46 L537.97 616.75 L536.65 615.1 L535.28 613.52 L533.86 612.01 L532.41 610.58 L530.92 609.23 L529.41 607.98 L527.87 606.81 L526.31 605.74 L524.74 604.77 L523.16 603.91 L521.57 603.15 L519.99 602.5 L518.42 601.96 L516.86 601.53 L515.32 601.22 L513.81 601.02 L512.32 600.94 L510.86 600.97 L509.45 601.12 L508.08 601.38 L506.76 601.76 L505.48 602.26 L504.27 602.86 L503.12 603.58 L502.03 604.4 L501.01 605.33" stroke="#b0b0b0" stroke-width="1.05" fill="none" stroke-linejoin="round"/>
<path d="M533.21 671.03 L534.53 670.65 L535.8 670.16 L537.01 669.56 L538.16 668.84 L539.25 668.02 L540.27 667.09 L541.22 666.07 L542.09 664.94 L542.88 663.72 L543.59 662.41 L544.22 661.02 L544.76 659.54 L545.22 657.99 L545.58 656.37 L545.86 654.68 L546.04 652.94 L546.14 651.14 L546.14 649.29 L546.05 647.4 L545.87 645.48 L545.59 643.53 L545.23 641.56 L544.78 639.57 L544.23 637.58 L543.61 635.58 L542.9 633.59 L542.11 631.61 L541.24 629.65 L540.3 627.72 L539.28 625.81 L538.2 623.95 L537.04 622.13 L535.83 620.36 L534.56 618.65 L533.24 617 L531.87 615.42 L530.46 613.91 L529.01 612.48 L527.52 611.13 L526 609.88 L524.46 608.71 L522.9 607.64 L521.33 606.67 L519.75 605.81 L518.17 605.05 L516.59 604.4 L515.02 603.86 L513.46 603.43 L511.92 603.12 L510.4 602.92 L508.91 602.84 L507.46 602.87 L506.05 603.02 L504.67 603.28 L503.35 603.66 L502.08 604.16 L500.87 604.76 L499.71 605.48 L498.63 606.3 L497.61 607.23" stroke="#b0b0b0" stroke-width="1.05" fill="none" stroke-linejoin="round"/>
<path d="M530.15 672.74 L531.47 672.36 L532.74 671.87 L533.96 671.26 L535.11 670.55 L536.2 669.72 L537.21 668.8 L538.16 667.77 L539.03 666.65 L539.82 665.43 L540.54 664.12 L541.16 662.72 L541.71 661.25 L542.16 659.7 L542.53 658.07 L542.8 656.39 L542.99 654.64 L543.08 652.84 L543.08 651 L542.99 649.11 L542.81 647.19 L542.54 645.24 L542.17 643.26 L541.72 641.28 L541.18 639.28 L540.55 637.29 L539.84 635.29 L539.05 633.31 L538.19 631.35 L537.24 629.42 L536.22 627.52 L535.14 625.65 L533.99 623.83 L532.78 622.06 L531.51 620.35 L530.19 618.7 L528.82 617.12 L527.4 615.61 L525.95 614.18 L524.46 612.84 L522.95 611.58 L521.41 610.42 L519.85 609.35 L518.28 608.38 L516.7 607.51 L515.11 606.75 L513.53 606.1 L511.96 605.56 L510.4 605.13 L508.86 604.82 L507.35 604.62 L505.86 604.54 L504.4 604.57 L502.99 604.72 L501.62 604.99 L500.3 605.37 L499.02 605.86 L497.81 606.47 L496.66 607.18 L495.57 608 L494.55 608.93" stroke="#b0b0b0" stroke-width="1.05" fill="none" stroke-linejoin="round"/>
<path d="M526.66 674.69 L527.98 674.31 L529.25 673.81 L530.46 673.21 L531.62 672.49 L532.7 671.67 L533.72 670.75 L534.67 669.72 L535.54 668.59 L536.33 667.37 L537.04 666.07 L537.67 664.67 L538.21 663.2 L538.67 661.64 L539.04 660.02 L539.31 658.34 L539.5 656.59 L539.59 654.79 L539.59 652.94 L539.5 651.06 L539.32 649.13 L539.04 647.18 L538.68 645.21 L538.23 643.22 L537.69 641.23 L537.06 639.23 L536.35 637.24 L535.56 635.26 L534.69 633.3 L533.75 631.37 L532.73 629.46 L531.65 627.6 L530.5 625.78 L529.29 624.01 L528.02 622.3 L526.7 620.65 L525.33 619.07 L523.91 617.56 L522.46 616.13 L520.97 614.79 L519.46 613.53 L517.92 612.36 L516.36 611.3 L514.79 610.33 L513.21 609.46 L511.62 608.7 L510.04 608.05 L508.47 607.51 L506.91 607.08 L505.37 606.77 L503.85 606.57 L502.37 606.49 L500.91 606.52 L499.5 606.67 L498.13 606.94 L496.8 607.32 L495.53 607.81 L494.32 608.41 L493.17 609.13 L492.08 609.95 L491.06 610.88" stroke="#b0b0b0" stroke-width="1.05" fill="none" stroke-linejoin="round"/>
</g>
<line x1="504.2" y1="603.8" x2="463.7" y2="625.5" stroke="#b0b0b0" stroke-width="1.2"/>
<line x1="537" y1="669" x2="494.3" y2="694.6" stroke="#b0b0b0" stroke-width="1.2"/>
<ellipse cx="499.3" cy="617.6" rx="10.8" ry="5.9" stroke="#b0b0b0" stroke-width="1.2" fill="none"/>
<path d="M410 644 C410.08 645.33 408.83 649.33 410.5 652 C412.17 654.67 416.33 658.17 420 660 C423.67 661.83 428.17 662.83 432.5 663 C436.83 663.17 442.25 662.33 446 661 C449.75 659.67 453.22 657 455 655 C456.78 653 456.42 650 456.7 649" stroke="#b0b0b0" stroke-width="1.2" fill="none" stroke-linejoin="round" stroke-linecap="round"/>
<path d="M413.5 628.4 L413.5 650.8 A19 10.4 0 0 0 451.5 650.8 L451.5 628.4" stroke="#b0b0b0" stroke-width="1.1" fill="#fff" stroke-linejoin="round" stroke-linecap="round"/>
<path d="M428.5 618 A19 10.4 0 1 0 436.5 618.1" stroke="#b0b0b0" stroke-width="1.1" fill="none" stroke-linejoin="round" stroke-linecap="round"/>
<ellipse cx="432.5" cy="628.4" rx="14.5" ry="7.8" stroke="#b0b0b0" stroke-width="1.2" fill="none"/>
<path d="M450.9 623.9 C452.88 624.32 459.02 625.08 462.8 626.4 C466.58 627.72 470.48 629.75 473.6 631.8 C476.72 633.85 479.43 636 481.5 638.7 C483.57 641.4 484.75 644.45 486 648 C487.25 651.55 488.5 658 489 660" stroke="#b0b0b0" stroke-width="1.2" fill="none" stroke-linejoin="round" stroke-linecap="round"/>
<path d="M451.9 633.8 C453.08 634.33 456.82 635.38 459 637 C461.18 638.62 463.38 641.68 465 643.5 C466.62 645.32 467.75 645.63 468.7 647.9 C469.65 650.17 470.7 654.47 470.7 657.1 C470.7 659.73 469.03 662.6 468.7 663.7" stroke="#b0b0b0" stroke-width="1.2" fill="none" stroke-linejoin="round" stroke-linecap="round"/>
<path d="M451.6 640 C452.25 641.32 454.73 645.48 455.5 647.9 C456.27 650.32 456.08 653.4 456.2 654.5" stroke="#b0b0b0" stroke-width="1.2" fill="none" stroke-linejoin="round" stroke-linecap="round"/>
<line x1="468.7" y1="663.7" x2="427.9" y2="675.5" stroke="#b0b0b0" stroke-width="1.2"/>
<line x1="470" y1="659.7" x2="485.8" y2="655.8" stroke="#b0b0b0" stroke-width="1.2"/>
<line x1="427.9" y1="675.5" x2="433.2" y2="688.7" stroke="#b0b0b0" stroke-width="1.2"/>
<line x1="433.2" y1="688.7" x2="488.4" y2="675.5" stroke="#b0b0b0" stroke-width="1.2"/>
<line x1="439.7" y1="696.6" x2="491" y2="688.7" stroke="#b0b0b0" stroke-width="1.2"/>
<path d="M437.1 704.5 C440.08 705.08 449.52 706.92 455 708 C460.48 709.08 465 711 470 711 C475 711 481.17 709.17 485 708 C488.83 706.83 491.67 704.67 493 704" stroke="#b0b0b0" stroke-width="1.2" fill="none" stroke-linejoin="round" stroke-linecap="round"/>
<path d="M468.7 627.3 L477.6 623.9 L477.6 627.5 L473.1 629.8" stroke="#b0b0b0" stroke-width="1.2" fill="none" stroke-linejoin="round"/>
<path d="M477.6 623.9 C479.08 624.38 483.55 625 486.5 626.8 C489.45 628.6 493 631.9 495.3 634.7 C497.6 637.5 499.47 642.12 500.3 643.6" stroke="#b0b0b0" stroke-width="1.2" fill="none" stroke-linejoin="round" stroke-linecap="round"/>
<path d="M477.6 627.5 C478.08 627.55 478.53 626.92 480.5 627.8 C482.47 628.68 486.43 630.17 489.4 632.8 C492.37 635.43 496.82 641.8 498.3 643.6" stroke="#b0b0b0" stroke-width="1.2" fill="none" stroke-linejoin="round" stroke-linecap="round"/>
<line x1="498.3" y1="643.6" x2="500.3" y2="643.6" stroke="#b0b0b0" stroke-width="1.2"/>
<path d="M389.4 655.3 C387.83 656.25 382.32 658.3 380 661 C377.68 663.7 376.53 667.73 375.5 671.5 C374.47 675.27 374.08 681.58 373.8 683.6" stroke="#b0b0b0" stroke-width="1.2" fill="none" stroke-linejoin="round" stroke-linecap="round"/>
<path d="M375.5 671.5 C376.75 672.42 379.83 675.55 383 677 C386.17 678.45 389.12 679.1 394.5 680.2 C399.88 681.3 410.12 683.9 415.3 683.6 C420.48 683.3 423.88 679.27 425.6 678.4" stroke="#b0b0b0" stroke-width="1.2" fill="none" stroke-linejoin="round" stroke-linecap="round"/>
<path d="M389.4 655.3 C390.17 655.92 391.98 657.45 394 659 C396.02 660.55 398.53 662.52 401.5 664.6 C404.47 666.68 407.78 669.2 411.8 671.5 C415.82 673.8 423.3 677.25 425.6 678.4" stroke="#b0b0b0" stroke-width="1.2" fill="none" stroke-linejoin="round" stroke-linecap="round"/>
<path d="M415.3 683.6 L413.5 697.4 L430.8 695.7 L430.8 690.5 L425.6 678.4" stroke="#b0b0b0" stroke-width="1.2" fill="none" stroke-linejoin="round"/>
<line x1="418.7" y1="685.4" x2="418.7" y2="696.5" stroke="#b0b0b0" stroke-width="1.2"/>
<path d="M373.8 683.6 C374.5 684.33 375.7 686.55 378 688 C380.3 689.45 383.93 691.13 387.6 692.3 C391.27 693.47 395.68 694.15 400 695 C404.32 695.85 411.25 697 413.5 697.4" stroke="#b0b0b0" stroke-width="1.2" fill="none" stroke-linejoin="round" stroke-linecap="round"/>
<ellipse cx="408.3" cy="664.6" rx="12" ry="7" stroke="#b0b0b0" stroke-width="1.2" fill="#fff"/>
<path d="M385.9 699.2 C386.92 700.17 389.4 703.28 392 705 C394.6 706.72 395.33 708.17 401.5 709.5 C407.67 710.83 422.68 713.28 429 713 C435.32 712.72 437.67 708.67 439.4 707.8" stroke="#b0b0b0" stroke-width="1.2" fill="none" stroke-linejoin="round" stroke-linecap="round"/>
<path d="M384 696 C385.33 696.83 388.5 699.67 392 701 C395.5 702.33 399.5 703.33 405 704 C410.5 704.67 419.83 705.5 425 705 C430.17 704.5 434.17 701.67 436 701" stroke="#b0b0b0" stroke-width="1.2" fill="none" stroke-linejoin="round" stroke-linecap="round"/>
<path d="M375.5 697.4 L373.8 704.4" stroke="#b0b0b0" stroke-width="1.2" fill="none" stroke-linejoin="round" stroke-linecap="round"/>
<path d="M373.8 704.4 C374.83 705.33 377.13 708 380 710 C382.87 712 384.55 714.47 391 716.4 C397.45 718.33 411.48 721.02 418.7 721.6 C425.92 722.18 431.7 720.18 434.3 719.9" stroke="#b0b0b0" stroke-width="1.2" fill="none" stroke-linejoin="round" stroke-linecap="round"/>
<path d="M375.5 700 C375.58 701 376 703.83 376 706 C376 708.17 374 710.67 375.5 713 C377 715.33 381.83 718 385 720 C388.17 722 388.6 723 394.5 725 C400.4 727 413.77 731.42 420.4 732 C427.03 732.58 431.98 729.08 434.3 728.5" stroke="#b0b0b0" stroke-width="1.2" fill="none" stroke-linejoin="round" stroke-linecap="round"/>
<line x1="434.3" y1="719.9" x2="434.3" y2="728.5" stroke="#b0b0b0" stroke-width="1.2"/>
<line x1="418.7" y1="721.6" x2="420.4" y2="732" stroke="#b0b0b0" stroke-width="1.2"/>
<line x1="418" y1="732" x2="418" y2="745" stroke="#b0b0b0" stroke-width="1.2"/>
<line x1="446.4" y1="712" x2="446.4" y2="745" stroke="#b0b0b0" stroke-width="1.2"/>
<path d="M418 745 A14.2 4.5 0 0 0 446.4 745" stroke="#b0b0b0" stroke-width="1.2" fill="none" stroke-linejoin="round" stroke-linecap="round"/>
<path d="M491.4 648.6 C492.22 650.57 495.07 656 496.3 660.4 C497.53 664.8 498.77 670.4 498.8 675 C498.83 679.6 497.25 684.73 496.5 688 C495.75 691.27 494.67 693.5 494.3 694.6" stroke="#b0b0b0" stroke-width="1.2" fill="none" stroke-linejoin="round" stroke-linecap="round"/>
<path d="M490 650.5 C490.5 652.58 492.27 658.92 493 663 C493.73 667.08 494.48 670.5 494.4 675 C494.32 679.5 492.82 687.5 492.5 690" stroke="#b0b0b0" stroke-width="1.2" fill="none" stroke-linejoin="round" stroke-linecap="round"/>
<path d="M396.7 774 L396.7 791 A35.5 20 0 0 0 467.7 791 L467.7 774" stroke="#3a3a3a" stroke-width="1.2" fill="#fff" stroke-linejoin="round" stroke-linecap="round"/>
<ellipse cx="432.2" cy="774" rx="35.5" ry="20" stroke="#3a3a3a" stroke-width="1.2" fill="#fff"/>
<ellipse cx="432.4" cy="772.8" rx="30.8" ry="14.2" stroke="#3a3a3a" stroke-width="1.2" fill="none"/>
<ellipse cx="432.4" cy="773.5" rx="29" ry="12.5" stroke="#3a3a3a" stroke-width="1" fill="none"/>
<ellipse cx="432.4" cy="774.7" rx="18.5" ry="8.6" stroke="#3a3a3a" stroke-width="1.2" fill="none"/>
<ellipse cx="432.4" cy="774" rx="12.3" ry="5.5" stroke="#3a3a3a" stroke-width="1.2" fill="none"/>
<text x="341.9" y="788.3" font-size="11.5" fill="#3a3a3a" stroke="#3a3a3a" stroke-width="0.35" text-anchor="middle" dominant-baseline="central">5</text>
<line x1="347.3" y1="785.8" x2="396.6" y2="785.8" stroke="#3a3a3a" stroke-width="1.2"/>
</svg></body></html>
